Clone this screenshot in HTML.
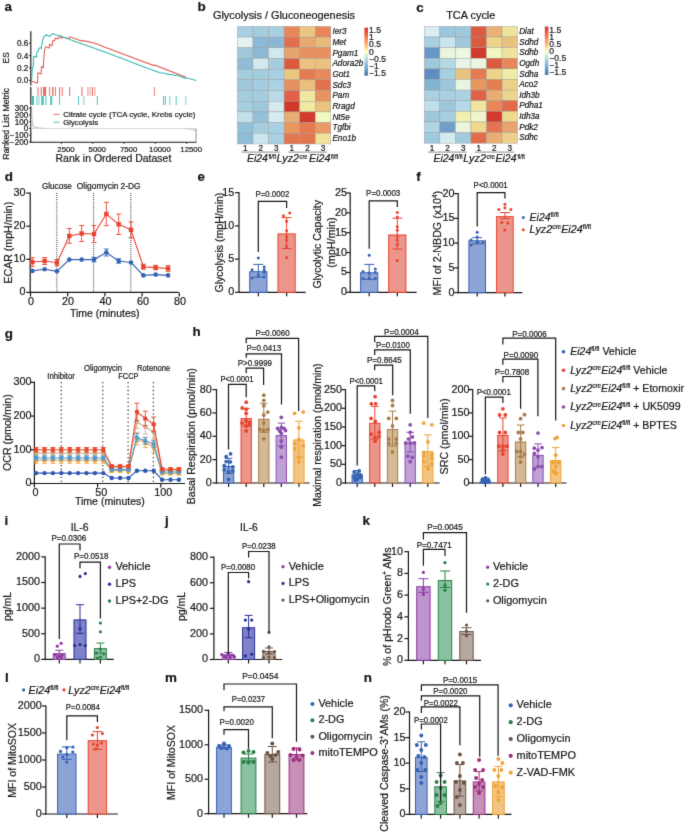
<!DOCTYPE html>
<html><head><meta charset="utf-8"><title>Figure</title>
<style>html,body{margin:0;padding:0;background:#fff;width:685px;height:834px;overflow:hidden}
svg{display:block;font-family:"Liberation Sans",sans-serif;will-change:transform}
text{stroke:#161616;stroke-width:0.2px}</style></head>
<body>
<svg width="685" height="834" viewBox="0 0 685 834" font-family="Liberation Sans, sans-serif" fill="#161616"><defs><linearGradient id="rdylbu" x1="0" y1="0" x2="0" y2="1">
<stop offset="0" stop-color="#d73027"/><stop offset="0.167" stop-color="#f46d43"/><stop offset="0.333" stop-color="#fdae61"/>
<stop offset="0.5" stop-color="#ffffbf"/><stop offset="0.667" stop-color="#abd9e9"/><stop offset="0.833" stop-color="#74add1"/><stop offset="1" stop-color="#4575b4"/>
</linearGradient>
<filter id="soft" x="0" y="0" width="685" height="834" filterUnits="userSpaceOnUse" color-interpolation-filters="sRGB"><feConvolveMatrix order="3" kernelMatrix="0.015 0.075 0.015 0.075 0.64 0.075 0.015 0.075 0.015" edgeMode="duplicate"/></filter></defs>
<g filter="url(#soft)"><rect width="685" height="834" fill="#fff"/>
<text x="4.5" y="10.9" font-size="13.4" font-weight="bold">a</text>
<text x="197.5" y="11.4" font-size="13.4" font-weight="bold">b</text>
<text x="416.3" y="11.6" font-size="13.4" font-weight="bold">c</text>
<text x="4.8" y="181.1" font-size="13.4" font-weight="bold">d</text>
<text x="197.5" y="181.1" font-size="13.4" font-weight="bold">e</text>
<text x="416.2" y="181.1" font-size="13.4" font-weight="bold">f</text>
<text x="4.8" y="337.5" font-size="13.4" font-weight="bold">g</text>
<text x="192.6" y="336.4" font-size="13.4" font-weight="bold">h</text>
<text x="4.6" y="525" font-size="13.4" font-weight="bold">i</text>
<text x="165" y="525" font-size="13.4" font-weight="bold">j</text>
<text x="362.5" y="525.4" font-size="13.4" font-weight="bold">k</text>
<text x="5" y="681.9" font-size="13.4" font-weight="bold">l</text>
<text x="165" y="682.3" font-size="13.4" font-weight="bold">m</text>
<text x="363.8" y="681.5" font-size="13.4" font-weight="bold">n</text>
<line x1="30.8" y1="31.3" x2="30.8" y2="85.6" stroke="#161616" stroke-width="1.15"/>
<line x1="30.8" y1="87" x2="30.8" y2="104.9" stroke="#161616" stroke-width="1.15"/>
<line x1="30.8" y1="106.3" x2="30.8" y2="142.3" stroke="#161616" stroke-width="1.15"/>
<line x1="28.8" y1="80.4" x2="30.8" y2="80.4" stroke="#161616" stroke-width="0.8"/>
<text x="28.3" y="83.3" font-size="8.2" text-anchor="end">0.0</text>
<line x1="28.8" y1="68.03" x2="30.8" y2="68.03" stroke="#161616" stroke-width="0.8"/>
<text x="28.3" y="70.93" font-size="8.2" text-anchor="end">0.2</text>
<line x1="28.8" y1="55.66" x2="30.8" y2="55.66" stroke="#161616" stroke-width="0.8"/>
<text x="28.3" y="58.56" font-size="8.2" text-anchor="end">0.4</text>
<line x1="28.8" y1="43.29" x2="30.8" y2="43.29" stroke="#161616" stroke-width="0.8"/>
<text x="28.3" y="46.19" font-size="8.2" text-anchor="end">0.6</text>
<text transform="translate(8.6 57.8) rotate(-90)" font-size="8.4" text-anchor="middle">ES</text>
<polyline points="31.6,81.3 37.5,83.1 37.9,72.9 39.5,73.3 41.1,74 41.5,66.7 43.3,67.4 43.7,60.1 44.4,51.4 45.5,46.8 47.3,47.3 49.2,48.1 49.5,44.4 51.4,45.2 52.1,45.5 52.8,40.8 53.5,40.4 54.6,40.4 55.4,38.2 56.8,38.2 57.9,38.9 58.7,37.1 60.1,36.8 61.6,38.2 62.3,37.1 68.9,38.6 70,36.8 78,39.7 81.4,41.2 82,40.4 95,43.3 105,47.2 153.8,65.6 154.3,64.9 186,77.2" fill="none" stroke="#e05a50" stroke-width="1.05"/>
<polyline points="31.6,81.3 32.4,67.4 33.3,66.3 33.5,56.5 35.7,56.5 36.6,57.2 36.8,52.1 38.2,51.4 38.9,48.1 40.4,47.7 41.3,48.4 41.5,45.2 42.2,44.1 42.6,39.7 43.3,38.9 43.7,36.8 45.5,35.3 46.6,34.9 49.9,36.4 51.4,34.6 52.5,33.8 53.5,34.1 58.7,36 60.1,35.3 61.6,36.4 78,42.6 105,52.1 154,70.8 161.8,73.2 163.5,72.8 165,73.6 169.8,74.6 170.5,74.2 175.8,75.6 176.5,75.1 185.5,78.3 186,77.8 196.3,80.6" fill="none" stroke="#35b8b0" stroke-width="1.05"/>
<rect x="37.2" y="87" width="1.7" height="8.9" fill="#e05a50" fill-opacity="0.55"/>
<rect x="40.7" y="87" width="1.2" height="8.9" fill="#e05a50" fill-opacity="0.8"/>
<rect x="43.1" y="87" width="3" height="8.9" fill="#e05a50" fill-opacity="0.9"/>
<rect x="49.1" y="87" width="1" height="8.9" fill="#e05a50" fill-opacity="0.8"/>
<rect x="52.1" y="87" width="1.5" height="8.9" fill="#e05a50" fill-opacity="0.85"/>
<rect x="55" y="87" width="1" height="8.9" fill="#e05a50" fill-opacity="0.8"/>
<rect x="59" y="87" width="1" height="8.9" fill="#e05a50" fill-opacity="0.8"/>
<rect x="60.6" y="87" width="0.8" height="8.9" fill="#e05a50" fill-opacity="0.3"/>
<rect x="61.9" y="87" width="0.9" height="8.9" fill="#e05a50" fill-opacity="0.8"/>
<rect x="69.1" y="87" width="1.1" height="8.9" fill="#e05a50" fill-opacity="0.85"/>
<rect x="81.3" y="87" width="1.3" height="8.9" fill="#e05a50" fill-opacity="0.75"/>
<rect x="87.1" y="87" width="0.9" height="8.9" fill="#e05a50" fill-opacity="0.45"/>
<rect x="88.3" y="87" width="0.9" height="8.9" fill="#e05a50" fill-opacity="0.4"/>
<rect x="89.5" y="87" width="0.9" height="8.9" fill="#e05a50" fill-opacity="0.45"/>
<rect x="90.6" y="87" width="0.8" height="8.9" fill="#e05a50" fill-opacity="0.3"/>
<rect x="92" y="87" width="1" height="8.9" fill="#e05a50" fill-opacity="0.85"/>
<rect x="94.3" y="87" width="1" height="8.9" fill="#e05a50" fill-opacity="0.65"/>
<rect x="153.9" y="87" width="0.9" height="8.9" fill="#e05a50" fill-opacity="0.85"/>
<rect x="32" y="96" width="2" height="9" fill="#35b8b0" fill-opacity="0.95"/>
<rect x="36.2" y="96" width="1.2" height="9" fill="#35b8b0" fill-opacity="0.5"/>
<rect x="37.6" y="96" width="1" height="9" fill="#35b8b0" fill-opacity="0.45"/>
<rect x="38.8" y="96" width="0.9" height="9" fill="#35b8b0" fill-opacity="0.4"/>
<rect x="41.2" y="96" width="2.7" height="9" fill="#35b8b0" fill-opacity="0.85"/>
<rect x="45.1" y="96" width="1.8" height="9" fill="#35b8b0" fill-opacity="0.5"/>
<rect x="50.1" y="96" width="2.2" height="9" fill="#35b8b0" fill-opacity="0.8"/>
<rect x="59" y="96" width="1" height="9" fill="#35b8b0" fill-opacity="0.8"/>
<rect x="78" y="96" width="1" height="9" fill="#35b8b0" fill-opacity="0.85"/>
<rect x="83.3" y="96" width="1.1" height="9" fill="#35b8b0" fill-opacity="0.6"/>
<rect x="96.8" y="96" width="1" height="9" fill="#35b8b0" fill-opacity="0.85"/>
<rect x="163" y="96" width="1" height="9" fill="#35b8b0" fill-opacity="0.85"/>
<rect x="164.9" y="96" width="1" height="9" fill="#35b8b0" fill-opacity="0.85"/>
<rect x="169.3" y="96" width="1" height="9" fill="#35b8b0" fill-opacity="0.7"/>
<rect x="175.7" y="96" width="1" height="9" fill="#35b8b0" fill-opacity="0.8"/>
<rect x="185.3" y="96" width="1" height="9" fill="#35b8b0" fill-opacity="0.65"/>
<line x1="28.8" y1="142" x2="30.8" y2="142" stroke="#161616" stroke-width="0.8"/>
<text x="28.3" y="144.9" font-size="8.2" text-anchor="end">−200</text>
<line x1="28.8" y1="135.25" x2="30.8" y2="135.25" stroke="#161616" stroke-width="0.8"/>
<text x="28.3" y="138.15" font-size="8.2" text-anchor="end">−100</text>
<line x1="28.8" y1="128.5" x2="30.8" y2="128.5" stroke="#161616" stroke-width="0.8"/>
<text x="28.3" y="131.4" font-size="8.2" text-anchor="end">0</text>
<line x1="28.8" y1="121.75" x2="30.8" y2="121.75" stroke="#161616" stroke-width="0.8"/>
<text x="28.3" y="124.65" font-size="8.2" text-anchor="end">100</text>
<line x1="28.8" y1="115" x2="30.8" y2="115" stroke="#161616" stroke-width="0.8"/>
<text x="28.3" y="117.9" font-size="8.2" text-anchor="end">200</text>
<line x1="28.8" y1="108.25" x2="30.8" y2="108.25" stroke="#161616" stroke-width="0.8"/>
<text x="28.3" y="111.15" font-size="8.2" text-anchor="end">300</text>
<path d="M31.4,128.5 L31.5,107.5 C31.8,118 32.2,124 33.5,126.3 C35,127.6 38,128.1 45,128.3 L185,128.7 C191,129 194.5,129.8 195.5,131.5 L196.1,141.5 L196.1,128.5 Z" fill="#ececec" stroke="none"/>
<path d="M185,128.7 C191,129 194.5,129.8 195.6,131.5" fill="none" stroke="#a0a0a0" stroke-width="0.6"/>
<path d="M31.6,107.5 C31.9,118 32.3,124 33.6,126.3 C35,127.6 38,128.1 45,128.3" fill="none" stroke="#9a9a9a" stroke-width="0.6"/>
<line x1="31" y1="128.5" x2="196.1" y2="128.5" stroke="#cdcdcd" stroke-width="0.7"/>
<line x1="196.1" y1="128.5" x2="196.1" y2="141.6" stroke="#8a8a8a" stroke-width="0.9"/>
<line x1="30.3" y1="142.2" x2="196.5" y2="142.2" stroke="#161616" stroke-width="1.1"/>
<line x1="61.4" y1="142.2" x2="61.4" y2="144" stroke="#161616" stroke-width="0.8"/>
<line x1="92.7" y1="142.2" x2="92.7" y2="144" stroke="#161616" stroke-width="0.8"/>
<line x1="124" y1="142.2" x2="124" y2="144" stroke="#161616" stroke-width="0.8"/>
<line x1="155.3" y1="142.2" x2="155.3" y2="144" stroke="#161616" stroke-width="0.8"/>
<line x1="186.6" y1="142.2" x2="186.6" y2="144" stroke="#161616" stroke-width="0.8"/>
<text x="66" y="151.6" font-size="7.8" text-anchor="middle">2500</text>
<text x="97.3" y="151.6" font-size="7.8" text-anchor="middle">5000</text>
<text x="128.6" y="151.6" font-size="7.8" text-anchor="middle">7500</text>
<text x="159.9" y="151.6" font-size="7.8" text-anchor="middle">10000</text>
<text x="191.2" y="151.6" font-size="7.8" text-anchor="middle">12500</text>
<text x="55.5" y="162.2" font-size="10.5" textLength="115.8" lengthAdjust="spacingAndGlyphs">Rank in Ordered Dataset</text>
<text transform="translate(8.7 123.9) rotate(-90)" font-size="8.9" text-anchor="middle" textLength="71.9" lengthAdjust="spacingAndGlyphs">Ranked List Metric</text>
<line x1="53.5" y1="114.4" x2="59.6" y2="114.4" stroke="#e05a50" stroke-width="0.9"/>
<line x1="53.5" y1="122.2" x2="59.6" y2="122.2" stroke="#35b8b0" stroke-width="0.9"/>
<text x="63.2" y="117.2" font-size="7.9" textLength="132.3" lengthAdjust="spacingAndGlyphs">Citrate cycle (TCA cycle, Krebs cycle)</text>
<text x="63.2" y="125" font-size="7.9" textLength="35" lengthAdjust="spacingAndGlyphs">Glycolysis</text>
<rect x="237.4" y="26.4" width="15.57" height="10.69" fill="#a8cfe2" stroke="#9a9a9a" stroke-width="0.4"/>
<rect x="252.97" y="26.4" width="15.57" height="10.69" fill="#a4cde0" stroke="#9a9a9a" stroke-width="0.4"/>
<rect x="268.54" y="26.4" width="15.57" height="10.69" fill="#a8cfe2" stroke="#9a9a9a" stroke-width="0.4"/>
<rect x="284.11" y="26.4" width="15.57" height="10.69" fill="#e8865a" stroke="#9a9a9a" stroke-width="0.4"/>
<rect x="299.68" y="26.4" width="15.57" height="10.69" fill="#ebc67f" stroke="#9a9a9a" stroke-width="0.4"/>
<rect x="315.25" y="26.4" width="15.57" height="10.69" fill="#e8865a" stroke="#9a9a9a" stroke-width="0.4"/>
<rect x="237.4" y="37.09" width="15.57" height="10.69" fill="#e3f3ee" stroke="#9a9a9a" stroke-width="0.4"/>
<rect x="252.97" y="37.09" width="15.57" height="10.69" fill="#8cb9d6" stroke="#9a9a9a" stroke-width="0.4"/>
<rect x="268.54" y="37.09" width="15.57" height="10.69" fill="#8ab8d4" stroke="#9a9a9a" stroke-width="0.4"/>
<rect x="284.11" y="37.09" width="15.57" height="10.69" fill="#e26e4d" stroke="#9a9a9a" stroke-width="0.4"/>
<rect x="299.68" y="37.09" width="15.57" height="10.69" fill="#e9a771" stroke="#9a9a9a" stroke-width="0.4"/>
<rect x="315.25" y="37.09" width="15.57" height="10.69" fill="#e8ba7c" stroke="#9a9a9a" stroke-width="0.4"/>
<rect x="237.4" y="47.78" width="15.57" height="10.69" fill="#9fc8dd" stroke="#9a9a9a" stroke-width="0.4"/>
<rect x="252.97" y="47.78" width="15.57" height="10.69" fill="#8cb9d6" stroke="#9a9a9a" stroke-width="0.4"/>
<rect x="268.54" y="47.78" width="15.57" height="10.69" fill="#d0e8ee" stroke="#9a9a9a" stroke-width="0.4"/>
<rect x="284.11" y="47.78" width="15.57" height="10.69" fill="#e6a46e" stroke="#9a9a9a" stroke-width="0.4"/>
<rect x="299.68" y="47.78" width="15.57" height="10.69" fill="#e88f5f" stroke="#9a9a9a" stroke-width="0.4"/>
<rect x="315.25" y="47.78" width="15.57" height="10.69" fill="#e88f5f" stroke="#9a9a9a" stroke-width="0.4"/>
<rect x="237.4" y="58.47" width="15.57" height="10.69" fill="#90bcd7" stroke="#9a9a9a" stroke-width="0.4"/>
<rect x="252.97" y="58.47" width="15.57" height="10.69" fill="#d2eaef" stroke="#9a9a9a" stroke-width="0.4"/>
<rect x="268.54" y="58.47" width="15.57" height="10.69" fill="#a4cde0" stroke="#9a9a9a" stroke-width="0.4"/>
<rect x="284.11" y="58.47" width="15.57" height="10.69" fill="#dc5a3f" stroke="#9a9a9a" stroke-width="0.4"/>
<rect x="299.68" y="58.47" width="15.57" height="10.69" fill="#eac27e" stroke="#9a9a9a" stroke-width="0.4"/>
<rect x="315.25" y="58.47" width="15.57" height="10.69" fill="#eac27e" stroke="#9a9a9a" stroke-width="0.4"/>
<rect x="237.4" y="69.16" width="15.57" height="10.69" fill="#a4cde0" stroke="#9a9a9a" stroke-width="0.4"/>
<rect x="252.97" y="69.16" width="15.57" height="10.69" fill="#a4cde0" stroke="#9a9a9a" stroke-width="0.4"/>
<rect x="268.54" y="69.16" width="15.57" height="10.69" fill="#a8cfe2" stroke="#9a9a9a" stroke-width="0.4"/>
<rect x="284.11" y="69.16" width="15.57" height="10.69" fill="#ebc67f" stroke="#9a9a9a" stroke-width="0.4"/>
<rect x="299.68" y="69.16" width="15.57" height="10.69" fill="#e57b51" stroke="#9a9a9a" stroke-width="0.4"/>
<rect x="315.25" y="69.16" width="15.57" height="10.69" fill="#e8895e" stroke="#9a9a9a" stroke-width="0.4"/>
<rect x="237.4" y="79.85" width="15.57" height="10.69" fill="#9fc8dd" stroke="#9a9a9a" stroke-width="0.4"/>
<rect x="252.97" y="79.85" width="15.57" height="10.69" fill="#a4cde0" stroke="#9a9a9a" stroke-width="0.4"/>
<rect x="268.54" y="79.85" width="15.57" height="10.69" fill="#abd1e3" stroke="#9a9a9a" stroke-width="0.4"/>
<rect x="284.11" y="79.85" width="15.57" height="10.69" fill="#e6905f" stroke="#9a9a9a" stroke-width="0.4"/>
<rect x="299.68" y="79.85" width="15.57" height="10.69" fill="#ebbf7d" stroke="#9a9a9a" stroke-width="0.4"/>
<rect x="315.25" y="79.85" width="15.57" height="10.69" fill="#e2714d" stroke="#9a9a9a" stroke-width="0.4"/>
<rect x="237.4" y="90.54" width="15.57" height="10.69" fill="#a4cde0" stroke="#9a9a9a" stroke-width="0.4"/>
<rect x="252.97" y="90.54" width="15.57" height="10.69" fill="#a4cde0" stroke="#9a9a9a" stroke-width="0.4"/>
<rect x="268.54" y="90.54" width="15.57" height="10.69" fill="#b8dbe7" stroke="#9a9a9a" stroke-width="0.4"/>
<rect x="284.11" y="90.54" width="15.57" height="10.69" fill="#e0624a" stroke="#9a9a9a" stroke-width="0.4"/>
<rect x="299.68" y="90.54" width="15.57" height="10.69" fill="#f1e6a2" stroke="#9a9a9a" stroke-width="0.4"/>
<rect x="315.25" y="90.54" width="15.57" height="10.69" fill="#e8925f" stroke="#9a9a9a" stroke-width="0.4"/>
<rect x="237.4" y="101.23" width="15.57" height="10.69" fill="#a6cee1" stroke="#9a9a9a" stroke-width="0.4"/>
<rect x="252.97" y="101.23" width="15.57" height="10.69" fill="#9fc8dd" stroke="#9a9a9a" stroke-width="0.4"/>
<rect x="268.54" y="101.23" width="15.57" height="10.69" fill="#d3ebf0" stroke="#9a9a9a" stroke-width="0.4"/>
<rect x="284.11" y="101.23" width="15.57" height="10.69" fill="#d0362a" stroke="#9a9a9a" stroke-width="0.4"/>
<rect x="299.68" y="101.23" width="15.57" height="10.69" fill="#f1e8a2" stroke="#9a9a9a" stroke-width="0.4"/>
<rect x="315.25" y="101.23" width="15.57" height="10.69" fill="#eac47f" stroke="#9a9a9a" stroke-width="0.4"/>
<rect x="237.4" y="111.92" width="15.57" height="10.69" fill="#c3e1ea" stroke="#9a9a9a" stroke-width="0.4"/>
<rect x="252.97" y="111.92" width="15.57" height="10.69" fill="#93c1d9" stroke="#9a9a9a" stroke-width="0.4"/>
<rect x="268.54" y="111.92" width="15.57" height="10.69" fill="#d5edf1" stroke="#9a9a9a" stroke-width="0.4"/>
<rect x="284.11" y="111.92" width="15.57" height="10.69" fill="#e8ad74" stroke="#9a9a9a" stroke-width="0.4"/>
<rect x="299.68" y="111.92" width="15.57" height="10.69" fill="#d33b2d" stroke="#9a9a9a" stroke-width="0.4"/>
<rect x="315.25" y="111.92" width="15.57" height="10.69" fill="#f2f8c2" stroke="#9a9a9a" stroke-width="0.4"/>
<rect x="237.4" y="122.61" width="15.57" height="10.69" fill="#92c0d8" stroke="#9a9a9a" stroke-width="0.4"/>
<rect x="252.97" y="122.61" width="15.57" height="10.69" fill="#a4cde0" stroke="#9a9a9a" stroke-width="0.4"/>
<rect x="268.54" y="122.61" width="15.57" height="10.69" fill="#a8cfe2" stroke="#9a9a9a" stroke-width="0.4"/>
<rect x="284.11" y="122.61" width="15.57" height="10.69" fill="#e8975f" stroke="#9a9a9a" stroke-width="0.4"/>
<rect x="299.68" y="122.61" width="15.57" height="10.69" fill="#e57b51" stroke="#9a9a9a" stroke-width="0.4"/>
<rect x="315.25" y="122.61" width="15.57" height="10.69" fill="#e89b66" stroke="#9a9a9a" stroke-width="0.4"/>
<rect x="237.4" y="133.3" width="15.57" height="10.69" fill="#8fbcd6" stroke="#9a9a9a" stroke-width="0.4"/>
<rect x="252.97" y="133.3" width="15.57" height="10.69" fill="#cbe6ee" stroke="#9a9a9a" stroke-width="0.4"/>
<rect x="268.54" y="133.3" width="15.57" height="10.69" fill="#a8cfe2" stroke="#9a9a9a" stroke-width="0.4"/>
<rect x="284.11" y="133.3" width="15.57" height="10.69" fill="#e27651" stroke="#9a9a9a" stroke-width="0.4"/>
<rect x="299.68" y="133.3" width="15.57" height="10.69" fill="#e27651" stroke="#9a9a9a" stroke-width="0.4"/>
<rect x="315.25" y="133.3" width="15.57" height="10.69" fill="#f0e29b" stroke="#9a9a9a" stroke-width="0.4"/>
<text x="213" y="18.8" font-size="10.2" textLength="142" lengthAdjust="spacingAndGlyphs">Glycolysis / Gluconeogenesis</text>
<text x="332.42" y="34.14" font-size="8.2" font-style="italic">Ier3</text>
<text x="332.42" y="44.83" font-size="8.2" font-style="italic">Met</text>
<text x="332.42" y="55.52" font-size="8.2" font-style="italic">Pgam1</text>
<text x="332.42" y="66.22" font-size="8.2" font-style="italic">Adora2b</text>
<text x="332.42" y="76.91" font-size="8.2" font-style="italic">Got1</text>
<text x="332.42" y="87.59" font-size="8.2" font-style="italic">Sdc3</text>
<text x="332.42" y="98.28" font-size="8.2" font-style="italic">Pam</text>
<text x="332.42" y="108.97" font-size="8.2" font-style="italic">Rragd</text>
<text x="332.42" y="119.66" font-size="8.2" font-style="italic">Nt5e</text>
<text x="332.42" y="130.35" font-size="8.2" font-style="italic">Tgfbi</text>
<text x="332.42" y="141.04" font-size="8.2" font-style="italic">Eno1b</text>
<text x="245.19" y="151.1" font-size="8.2" text-anchor="middle">1</text>
<text x="260.75" y="151.1" font-size="8.2" text-anchor="middle">2</text>
<text x="276.32" y="151.1" font-size="8.2" text-anchor="middle">3</text>
<text x="291.89" y="151.1" font-size="8.2" text-anchor="middle">1</text>
<text x="307.47" y="151.1" font-size="8.2" text-anchor="middle">2</text>
<text x="323.04" y="151.1" font-size="8.2" text-anchor="middle">3</text>
<line x1="241.5" y1="152.1" x2="280.2" y2="152.1" stroke="#a3a3a3" stroke-width="1.4"/>
<line x1="288.3" y1="152.1" x2="327.1" y2="152.1" stroke="#a3a3a3" stroke-width="1.4"/>
<rect x="364.4" y="27.7" width="3.6" height="48" fill="url(#rdylbu)"/>
<text x="369" y="33.2" font-size="8.6">1.5</text>
<text x="369" y="40.32" font-size="8.6">1</text>
<text x="369" y="47.44" font-size="8.6">0.5</text>
<text x="369" y="54.56" font-size="8.6">0</text>
<text x="369" y="61.68" font-size="8.6">−0.5</text>
<text x="369" y="68.8" font-size="8.6">−1</text>
<text x="369" y="75.92" font-size="8.6">−1.5</text>
<text x="246.9" y="162.2" font-size="10.6" font-style="italic" textLength="21" lengthAdjust="spacingAndGlyphs">Ei24</text>
<text x="268.4" y="159.1" font-size="6.6" textLength="7.6" lengthAdjust="spacingAndGlyphs">fl/fl</text>
<text x="276.5" y="162.2" font-size="10.6" font-style="italic" textLength="22.5" lengthAdjust="spacingAndGlyphs">Lyz2</text>
<text x="299.5" y="159.1" font-size="6.6" textLength="8" lengthAdjust="spacingAndGlyphs">cre</text>
<text x="309" y="162.2" font-size="10.6" font-style="italic" textLength="21.5" lengthAdjust="spacingAndGlyphs">Ei24</text>
<text x="331" y="159.1" font-size="6.6" textLength="7" lengthAdjust="spacingAndGlyphs">fl/fl</text>
<rect x="424.3" y="26.4" width="15.55" height="10.62" fill="#d9eef3" stroke="#9a9a9a" stroke-width="0.4"/>
<rect x="439.85" y="26.4" width="15.55" height="10.62" fill="#9cc6dc" stroke="#9a9a9a" stroke-width="0.4"/>
<rect x="455.4" y="26.4" width="15.55" height="10.62" fill="#a0c8dc" stroke="#9a9a9a" stroke-width="0.4"/>
<rect x="470.95" y="26.4" width="15.55" height="10.62" fill="#dc5a3f" stroke="#9a9a9a" stroke-width="0.4"/>
<rect x="486.5" y="26.4" width="15.55" height="10.62" fill="#eab077" stroke="#9a9a9a" stroke-width="0.4"/>
<rect x="502.05" y="26.4" width="15.55" height="10.62" fill="#ede39b" stroke="#9a9a9a" stroke-width="0.4"/>
<rect x="424.3" y="37.02" width="15.55" height="10.62" fill="#a8cfe0" stroke="#9a9a9a" stroke-width="0.4"/>
<rect x="439.85" y="37.02" width="15.55" height="10.62" fill="#c9e5ed" stroke="#9a9a9a" stroke-width="0.4"/>
<rect x="455.4" y="37.02" width="15.55" height="10.62" fill="#a0c8dc" stroke="#9a9a9a" stroke-width="0.4"/>
<rect x="470.95" y="37.02" width="15.55" height="10.62" fill="#dc5a3f" stroke="#9a9a9a" stroke-width="0.4"/>
<rect x="486.5" y="37.02" width="15.55" height="10.62" fill="#edd48a" stroke="#9a9a9a" stroke-width="0.4"/>
<rect x="502.05" y="37.02" width="15.55" height="10.62" fill="#e9c27f" stroke="#9a9a9a" stroke-width="0.4"/>
<rect x="424.3" y="47.64" width="15.55" height="10.62" fill="#6797c5" stroke="#9a9a9a" stroke-width="0.4"/>
<rect x="439.85" y="47.64" width="15.55" height="10.62" fill="#e9f5dc" stroke="#9a9a9a" stroke-width="0.4"/>
<rect x="455.4" y="47.64" width="15.55" height="10.62" fill="#eef7df" stroke="#9a9a9a" stroke-width="0.4"/>
<rect x="470.95" y="47.64" width="15.55" height="10.62" fill="#d03a2c" stroke="#9a9a9a" stroke-width="0.4"/>
<rect x="486.5" y="47.64" width="15.55" height="10.62" fill="#f1f8c1" stroke="#9a9a9a" stroke-width="0.4"/>
<rect x="502.05" y="47.64" width="15.55" height="10.62" fill="#efe49e" stroke="#9a9a9a" stroke-width="0.4"/>
<rect x="424.3" y="58.26" width="15.55" height="10.62" fill="#a0c8dc" stroke="#9a9a9a" stroke-width="0.4"/>
<rect x="439.85" y="58.26" width="15.55" height="10.62" fill="#b4d8e4" stroke="#9a9a9a" stroke-width="0.4"/>
<rect x="455.4" y="58.26" width="15.55" height="10.62" fill="#e9f5ea" stroke="#9a9a9a" stroke-width="0.4"/>
<rect x="470.95" y="58.26" width="15.55" height="10.62" fill="#ebf5e2" stroke="#9a9a9a" stroke-width="0.4"/>
<rect x="486.5" y="58.26" width="15.55" height="10.62" fill="#dc5a3f" stroke="#9a9a9a" stroke-width="0.4"/>
<rect x="502.05" y="58.26" width="15.55" height="10.62" fill="#e8875a" stroke="#9a9a9a" stroke-width="0.4"/>
<rect x="424.3" y="68.88" width="15.55" height="10.62" fill="#5f8dc1" stroke="#9a9a9a" stroke-width="0.4"/>
<rect x="439.85" y="68.88" width="15.55" height="10.62" fill="#a6cfe0" stroke="#9a9a9a" stroke-width="0.4"/>
<rect x="455.4" y="68.88" width="15.55" height="10.62" fill="#eac27f" stroke="#9a9a9a" stroke-width="0.4"/>
<rect x="470.95" y="68.88" width="15.55" height="10.62" fill="#e57a50" stroke="#9a9a9a" stroke-width="0.4"/>
<rect x="486.5" y="68.88" width="15.55" height="10.62" fill="#edd48a" stroke="#9a9a9a" stroke-width="0.4"/>
<rect x="502.05" y="68.88" width="15.55" height="10.62" fill="#eeeda8" stroke="#9a9a9a" stroke-width="0.4"/>
<rect x="424.3" y="79.5" width="15.55" height="10.62" fill="#85b3d2" stroke="#9a9a9a" stroke-width="0.4"/>
<rect x="439.85" y="79.5" width="15.55" height="10.62" fill="#9dc8dc" stroke="#9a9a9a" stroke-width="0.4"/>
<rect x="455.4" y="79.5" width="15.55" height="10.62" fill="#e8f5e2" stroke="#9a9a9a" stroke-width="0.4"/>
<rect x="470.95" y="79.5" width="15.55" height="10.62" fill="#e8985f" stroke="#9a9a9a" stroke-width="0.4"/>
<rect x="486.5" y="79.5" width="15.55" height="10.62" fill="#e67e52" stroke="#9a9a9a" stroke-width="0.4"/>
<rect x="502.05" y="79.5" width="15.55" height="10.62" fill="#ecd089" stroke="#9a9a9a" stroke-width="0.4"/>
<rect x="424.3" y="90.12" width="15.55" height="10.62" fill="#a9d0e1" stroke="#9a9a9a" stroke-width="0.4"/>
<rect x="439.85" y="90.12" width="15.55" height="10.62" fill="#a9d0e1" stroke="#9a9a9a" stroke-width="0.4"/>
<rect x="455.4" y="90.12" width="15.55" height="10.62" fill="#acd2e2" stroke="#9a9a9a" stroke-width="0.4"/>
<rect x="470.95" y="90.12" width="15.55" height="10.62" fill="#e0614a" stroke="#9a9a9a" stroke-width="0.4"/>
<rect x="486.5" y="90.12" width="15.55" height="10.62" fill="#e9ad72" stroke="#9a9a9a" stroke-width="0.4"/>
<rect x="502.05" y="90.12" width="15.55" height="10.62" fill="#ecd68c" stroke="#9a9a9a" stroke-width="0.4"/>
<rect x="424.3" y="100.74" width="15.55" height="10.62" fill="#bfe0ea" stroke="#9a9a9a" stroke-width="0.4"/>
<rect x="439.85" y="100.74" width="15.55" height="10.62" fill="#9dc8dc" stroke="#9a9a9a" stroke-width="0.4"/>
<rect x="455.4" y="100.74" width="15.55" height="10.62" fill="#b5d9e6" stroke="#9a9a9a" stroke-width="0.4"/>
<rect x="470.95" y="100.74" width="15.55" height="10.62" fill="#efe59c" stroke="#9a9a9a" stroke-width="0.4"/>
<rect x="486.5" y="100.74" width="15.55" height="10.62" fill="#e8875a" stroke="#9a9a9a" stroke-width="0.4"/>
<rect x="502.05" y="100.74" width="15.55" height="10.62" fill="#e06a4a" stroke="#9a9a9a" stroke-width="0.4"/>
<rect x="424.3" y="111.36" width="15.55" height="10.62" fill="#9dc8dc" stroke="#9a9a9a" stroke-width="0.4"/>
<rect x="439.85" y="111.36" width="15.55" height="10.62" fill="#a7cfe0" stroke="#9a9a9a" stroke-width="0.4"/>
<rect x="455.4" y="111.36" width="15.55" height="10.62" fill="#f1f1b1" stroke="#9a9a9a" stroke-width="0.4"/>
<rect x="470.95" y="111.36" width="15.55" height="10.62" fill="#f1f6cc" stroke="#9a9a9a" stroke-width="0.4"/>
<rect x="486.5" y="111.36" width="15.55" height="10.62" fill="#d33a2c" stroke="#9a9a9a" stroke-width="0.4"/>
<rect x="502.05" y="111.36" width="15.55" height="10.62" fill="#eedb8e" stroke="#9a9a9a" stroke-width="0.4"/>
<rect x="424.3" y="121.98" width="15.55" height="10.62" fill="#b0d5e4" stroke="#9a9a9a" stroke-width="0.4"/>
<rect x="439.85" y="121.98" width="15.55" height="10.62" fill="#6f9fc8" stroke="#9a9a9a" stroke-width="0.4"/>
<rect x="455.4" y="121.98" width="15.55" height="10.62" fill="#ebf6dc" stroke="#9a9a9a" stroke-width="0.4"/>
<rect x="470.95" y="121.98" width="15.55" height="10.62" fill="#eed88e" stroke="#9a9a9a" stroke-width="0.4"/>
<rect x="486.5" y="121.98" width="15.55" height="10.62" fill="#e37450" stroke="#9a9a9a" stroke-width="0.4"/>
<rect x="502.05" y="121.98" width="15.55" height="10.62" fill="#e9a36c" stroke="#9a9a9a" stroke-width="0.4"/>
<rect x="424.3" y="132.6" width="15.55" height="10.62" fill="#9fc9dc" stroke="#9a9a9a" stroke-width="0.4"/>
<rect x="439.85" y="132.6" width="15.55" height="10.62" fill="#d4ebf0" stroke="#9a9a9a" stroke-width="0.4"/>
<rect x="455.4" y="132.6" width="15.55" height="10.62" fill="#a2cadd" stroke="#9a9a9a" stroke-width="0.4"/>
<rect x="470.95" y="132.6" width="15.55" height="10.62" fill="#e26d4c" stroke="#9a9a9a" stroke-width="0.4"/>
<rect x="486.5" y="132.6" width="15.55" height="10.62" fill="#e9ae73" stroke="#9a9a9a" stroke-width="0.4"/>
<rect x="502.05" y="132.6" width="15.55" height="10.62" fill="#ecd089" stroke="#9a9a9a" stroke-width="0.4"/>
<text x="446.2" y="19.3" font-size="10.2" textLength="49.2" lengthAdjust="spacingAndGlyphs">TCA cycle</text>
<text x="519.2" y="34.11" font-size="8.2" font-style="italic">Dlat</text>
<text x="519.2" y="44.73" font-size="8.2" font-style="italic">Sdhd</text>
<text x="519.2" y="55.35" font-size="8.2" font-style="italic">Sdhb</text>
<text x="519.2" y="65.97" font-size="8.2" font-style="italic">Ogdh</text>
<text x="519.2" y="76.59" font-size="8.2" font-style="italic">Sdha</text>
<text x="519.2" y="87.21" font-size="8.2" font-style="italic">Aco2</text>
<text x="519.2" y="97.83" font-size="8.2" font-style="italic">Idh3b</text>
<text x="519.2" y="108.45" font-size="8.2" font-style="italic">Pdha1</text>
<text x="519.2" y="119.07" font-size="8.2" font-style="italic">Idh3a</text>
<text x="519.2" y="129.69" font-size="8.2" font-style="italic">Pdk2</text>
<text x="519.2" y="140.31" font-size="8.2" font-style="italic">Sdhc</text>
<text x="432.07" y="151.1" font-size="8.2" text-anchor="middle">1</text>
<text x="447.62" y="151.1" font-size="8.2" text-anchor="middle">2</text>
<text x="463.18" y="151.1" font-size="8.2" text-anchor="middle">3</text>
<text x="478.73" y="151.1" font-size="8.2" text-anchor="middle">1</text>
<text x="494.28" y="151.1" font-size="8.2" text-anchor="middle">2</text>
<text x="509.83" y="151.1" font-size="8.2" text-anchor="middle">3</text>
<line x1="428.1" y1="152.1" x2="466.7" y2="152.1" stroke="#a3a3a3" stroke-width="1.4"/>
<line x1="474.8" y1="152.1" x2="514" y2="152.1" stroke="#a3a3a3" stroke-width="1.4"/>
<rect x="544.8" y="26.6" width="3.6" height="48.3" fill="url(#rdylbu)"/>
<text x="549.3" y="32.9" font-size="8.6">1.5</text>
<text x="549.3" y="39.92" font-size="8.6">1</text>
<text x="549.3" y="46.94" font-size="8.6">0.5</text>
<text x="549.3" y="53.96" font-size="8.6">0</text>
<text x="549.3" y="60.98" font-size="8.6">−0.5</text>
<text x="549.3" y="68" font-size="8.6">−1</text>
<text x="549.3" y="75.02" font-size="8.6">−1.5</text>
<text x="433.4" y="162.2" font-size="10.6" font-style="italic" textLength="21" lengthAdjust="spacingAndGlyphs">Ei24</text>
<text x="455" y="159.1" font-size="6.6" textLength="7.6" lengthAdjust="spacingAndGlyphs">fl/fl</text>
<text x="463.2" y="162.2" font-size="10.6" font-style="italic" textLength="22.8" lengthAdjust="spacingAndGlyphs">Lyz2</text>
<text x="486.5" y="159.1" font-size="6.6" textLength="8.3" lengthAdjust="spacingAndGlyphs">cre</text>
<text x="495.5" y="162.2" font-size="10.6" font-style="italic" textLength="21" lengthAdjust="spacingAndGlyphs">Ei24</text>
<text x="517.5" y="159.1" font-size="6.6" textLength="7.2" lengthAdjust="spacingAndGlyphs">fl/fl</text>
<line x1="30.2" y1="192.4" x2="30.2" y2="293" stroke="#161616" stroke-width="1.2"/>
<line x1="26.2" y1="292.4" x2="30.2" y2="292.4" stroke="#161616" stroke-width="1.2"/>
<text x="25.4" y="295.33" font-size="10.8" text-anchor="end">0</text>
<line x1="26.2" y1="259.3" x2="30.2" y2="259.3" stroke="#161616" stroke-width="1.2"/>
<text x="25.4" y="262.23" font-size="10.8" text-anchor="end">10</text>
<line x1="26.2" y1="226.2" x2="30.2" y2="226.2" stroke="#161616" stroke-width="1.2"/>
<text x="25.4" y="229.13" font-size="10.8" text-anchor="end">20</text>
<line x1="26.2" y1="193.1" x2="30.2" y2="193.1" stroke="#161616" stroke-width="1.2"/>
<text x="25.4" y="196.03" font-size="10.8" text-anchor="end">30</text>
<line x1="29.6" y1="292.4" x2="178.6" y2="292.4" stroke="#161616" stroke-width="1.2"/>
<line x1="30.5" y1="292.4" x2="30.5" y2="296.4" stroke="#161616" stroke-width="1.2"/>
<line x1="67.7" y1="292.4" x2="67.7" y2="296.4" stroke="#161616" stroke-width="1.2"/>
<line x1="104.9" y1="292.4" x2="104.9" y2="296.4" stroke="#161616" stroke-width="1.2"/>
<line x1="142.1" y1="292.4" x2="142.1" y2="296.4" stroke="#161616" stroke-width="1.2"/>
<line x1="179.3" y1="292.4" x2="179.3" y2="296.4" stroke="#161616" stroke-width="1.2"/>
<text x="30.9" y="304.5" font-size="10.8" text-anchor="middle">0</text>
<text x="68.1" y="304.5" font-size="10.8" text-anchor="middle">20</text>
<text x="105.6" y="304.5" font-size="10.8" text-anchor="middle">40</text>
<text x="143" y="304.5" font-size="10.8" text-anchor="middle">60</text>
<text x="180.1" y="304.5" font-size="10.8" text-anchor="middle">80</text>
<text x="69.9" y="316.7" font-size="10.8" textLength="69.6" lengthAdjust="spacingAndGlyphs">Time (minutes)</text>
<text transform="translate(11.7 242.65) rotate(-90)" font-size="10.8" text-anchor="middle" textLength="81.7" lengthAdjust="spacingAndGlyphs">ECAR (mpH/min)</text>
<line x1="56.8" y1="193" x2="56.8" y2="292" stroke="#4a4a4a" stroke-width="1.1" stroke-dasharray="1 1.04"/>
<line x1="93.6" y1="193" x2="93.6" y2="292" stroke="#4a4a4a" stroke-width="1.1" stroke-dasharray="1 1.04"/>
<line x1="130.8" y1="193" x2="130.8" y2="292" stroke="#4a4a4a" stroke-width="1.1" stroke-dasharray="1 1.04"/>
<text x="41.9" y="188.6" font-size="8.6" textLength="30" lengthAdjust="spacingAndGlyphs">Glucose</text>
<text x="76.8" y="188.6" font-size="8.6" textLength="41.7" lengthAdjust="spacingAndGlyphs">Oligomycin</text>
<text x="120.6" y="188.6" font-size="8.6" textLength="20" lengthAdjust="spacingAndGlyphs">2-DG</text>
<polyline points="32.3,262 44.64,261 56.98,262.7 69.32,235.9 81.66,233.5 94,234 106.34,214 118.68,224.3 131.02,229.8 143.36,266.7 155.7,267.6 168.04,268.5" fill="none" stroke="#e8432f" stroke-width="1.1"/>
<line x1="32.3" y1="266.4" x2="32.3" y2="257.6" stroke="#e8432f" stroke-width="0.9"/>
<line x1="29.8" y1="257.6" x2="34.8" y2="257.6" stroke="#e8432f" stroke-width="0.9"/>
<line x1="29.8" y1="266.4" x2="34.8" y2="266.4" stroke="#e8432f" stroke-width="0.9"/>
<rect x="30.1" y="259.8" width="4.4" height="4.4" fill="#e8432f"/>
<line x1="44.64" y1="264.5" x2="44.64" y2="257.5" stroke="#e8432f" stroke-width="0.9"/>
<line x1="42.14" y1="257.5" x2="47.14" y2="257.5" stroke="#e8432f" stroke-width="0.9"/>
<line x1="42.14" y1="264.5" x2="47.14" y2="264.5" stroke="#e8432f" stroke-width="0.9"/>
<rect x="42.44" y="258.8" width="4.4" height="4.4" fill="#e8432f"/>
<line x1="56.98" y1="265.9" x2="56.98" y2="259.5" stroke="#e8432f" stroke-width="0.9"/>
<line x1="54.48" y1="259.5" x2="59.48" y2="259.5" stroke="#e8432f" stroke-width="0.9"/>
<line x1="54.48" y1="265.9" x2="59.48" y2="265.9" stroke="#e8432f" stroke-width="0.9"/>
<rect x="54.78" y="260.5" width="4.4" height="4.4" fill="#e8432f"/>
<line x1="69.32" y1="243.3" x2="69.32" y2="228.5" stroke="#e8432f" stroke-width="0.9"/>
<line x1="66.82" y1="228.5" x2="71.82" y2="228.5" stroke="#e8432f" stroke-width="0.9"/>
<line x1="66.82" y1="243.3" x2="71.82" y2="243.3" stroke="#e8432f" stroke-width="0.9"/>
<rect x="67.12" y="233.7" width="4.4" height="4.4" fill="#e8432f"/>
<line x1="81.66" y1="241.5" x2="81.66" y2="225.5" stroke="#e8432f" stroke-width="0.9"/>
<line x1="79.16" y1="225.5" x2="84.16" y2="225.5" stroke="#e8432f" stroke-width="0.9"/>
<line x1="79.16" y1="241.5" x2="84.16" y2="241.5" stroke="#e8432f" stroke-width="0.9"/>
<rect x="79.46" y="231.3" width="4.4" height="4.4" fill="#e8432f"/>
<line x1="94" y1="242.5" x2="94" y2="225.5" stroke="#e8432f" stroke-width="0.9"/>
<line x1="91.5" y1="225.5" x2="96.5" y2="225.5" stroke="#e8432f" stroke-width="0.9"/>
<line x1="91.5" y1="242.5" x2="96.5" y2="242.5" stroke="#e8432f" stroke-width="0.9"/>
<rect x="91.8" y="231.8" width="4.4" height="4.4" fill="#e8432f"/>
<line x1="106.34" y1="225.7" x2="106.34" y2="202.3" stroke="#e8432f" stroke-width="0.9"/>
<line x1="103.84" y1="202.3" x2="108.84" y2="202.3" stroke="#e8432f" stroke-width="0.9"/>
<line x1="103.84" y1="225.7" x2="108.84" y2="225.7" stroke="#e8432f" stroke-width="0.9"/>
<rect x="104.14" y="211.8" width="4.4" height="4.4" fill="#e8432f"/>
<line x1="118.68" y1="234.5" x2="118.68" y2="214.1" stroke="#e8432f" stroke-width="0.9"/>
<line x1="116.18" y1="214.1" x2="121.18" y2="214.1" stroke="#e8432f" stroke-width="0.9"/>
<line x1="116.18" y1="234.5" x2="121.18" y2="234.5" stroke="#e8432f" stroke-width="0.9"/>
<rect x="116.48" y="222.1" width="4.4" height="4.4" fill="#e8432f"/>
<line x1="131.02" y1="237.7" x2="131.02" y2="221.9" stroke="#e8432f" stroke-width="0.9"/>
<line x1="128.52" y1="221.9" x2="133.52" y2="221.9" stroke="#e8432f" stroke-width="0.9"/>
<line x1="128.52" y1="237.7" x2="133.52" y2="237.7" stroke="#e8432f" stroke-width="0.9"/>
<rect x="128.82" y="227.6" width="4.4" height="4.4" fill="#e8432f"/>
<line x1="143.36" y1="269.2" x2="143.36" y2="264.2" stroke="#e8432f" stroke-width="0.9"/>
<line x1="140.86" y1="264.2" x2="145.86" y2="264.2" stroke="#e8432f" stroke-width="0.9"/>
<line x1="140.86" y1="269.2" x2="145.86" y2="269.2" stroke="#e8432f" stroke-width="0.9"/>
<rect x="141.16" y="264.5" width="4.4" height="4.4" fill="#e8432f"/>
<line x1="155.7" y1="269.8" x2="155.7" y2="265.4" stroke="#e8432f" stroke-width="0.9"/>
<line x1="153.2" y1="265.4" x2="158.2" y2="265.4" stroke="#e8432f" stroke-width="0.9"/>
<line x1="153.2" y1="269.8" x2="158.2" y2="269.8" stroke="#e8432f" stroke-width="0.9"/>
<rect x="153.5" y="265.4" width="4.4" height="4.4" fill="#e8432f"/>
<line x1="168.04" y1="271.3" x2="168.04" y2="265.7" stroke="#e8432f" stroke-width="0.9"/>
<line x1="165.54" y1="265.7" x2="170.54" y2="265.7" stroke="#e8432f" stroke-width="0.9"/>
<line x1="165.54" y1="271.3" x2="170.54" y2="271.3" stroke="#e8432f" stroke-width="0.9"/>
<rect x="165.84" y="266.3" width="4.4" height="4.4" fill="#e8432f"/>
<polyline points="32.3,270.9 44.64,269.2 56.98,271.3 69.32,259.6 81.66,259.6 94,259.6 106.34,252.5 118.68,261 131.02,262.5 143.36,275.4 155.7,274.6 168.04,275.4" fill="none" stroke="#3561b3" stroke-width="1.1"/>
<circle cx="32.3" cy="270.9" r="2.3" fill="#3561b3"/>
<circle cx="44.64" cy="269.2" r="2.3" fill="#3561b3"/>
<circle cx="56.98" cy="271.3" r="2.3" fill="#3561b3"/>
<circle cx="69.32" cy="259.6" r="2.3" fill="#3561b3"/>
<circle cx="81.66" cy="259.6" r="2.3" fill="#3561b3"/>
<line x1="94" y1="261.8" x2="94" y2="257.4" stroke="#3561b3" stroke-width="0.9"/>
<line x1="91.5" y1="257.4" x2="96.5" y2="257.4" stroke="#3561b3" stroke-width="0.9"/>
<line x1="91.5" y1="261.8" x2="96.5" y2="261.8" stroke="#3561b3" stroke-width="0.9"/>
<circle cx="94" cy="259.6" r="2.3" fill="#3561b3"/>
<line x1="106.34" y1="256" x2="106.34" y2="249" stroke="#3561b3" stroke-width="0.9"/>
<line x1="103.84" y1="249" x2="108.84" y2="249" stroke="#3561b3" stroke-width="0.9"/>
<line x1="103.84" y1="256" x2="108.84" y2="256" stroke="#3561b3" stroke-width="0.9"/>
<circle cx="106.34" cy="252.5" r="2.3" fill="#3561b3"/>
<line x1="118.68" y1="263.2" x2="118.68" y2="258.8" stroke="#3561b3" stroke-width="0.9"/>
<line x1="116.18" y1="258.8" x2="121.18" y2="258.8" stroke="#3561b3" stroke-width="0.9"/>
<line x1="116.18" y1="263.2" x2="121.18" y2="263.2" stroke="#3561b3" stroke-width="0.9"/>
<circle cx="118.68" cy="261" r="2.3" fill="#3561b3"/>
<circle cx="131.02" cy="262.5" r="2.3" fill="#3561b3"/>
<circle cx="143.36" cy="275.4" r="2.3" fill="#3561b3"/>
<circle cx="155.7" cy="274.6" r="2.3" fill="#3561b3"/>
<circle cx="168.04" cy="275.4" r="2.3" fill="#3561b3"/>
<line x1="239" y1="192.1" x2="239" y2="292.9" stroke="#161616" stroke-width="1.2"/>
<line x1="235" y1="292.3" x2="239" y2="292.3" stroke="#161616" stroke-width="1.2"/>
<text x="234.3" y="295.23" font-size="10.8" text-anchor="end">0</text>
<line x1="235" y1="259.1" x2="239" y2="259.1" stroke="#161616" stroke-width="1.2"/>
<text x="234.3" y="262.03" font-size="10.8" text-anchor="end">5</text>
<line x1="235" y1="225.9" x2="239" y2="225.9" stroke="#161616" stroke-width="1.2"/>
<text x="234.3" y="228.83" font-size="10.8" text-anchor="end">10</text>
<line x1="235" y1="192.7" x2="239" y2="192.7" stroke="#161616" stroke-width="1.2"/>
<text x="234.3" y="195.63" font-size="10.8" text-anchor="end">15</text>
<line x1="238.4" y1="292.3" x2="305.6" y2="292.3" stroke="#161616" stroke-width="1.2"/>
<line x1="258.3" y1="292.3" x2="258.3" y2="296.3" stroke="#161616" stroke-width="1.2"/>
<line x1="286.6" y1="292.3" x2="286.6" y2="296.3" stroke="#161616" stroke-width="1.2"/>
<rect x="249.7" y="271.7" width="17.2" height="20.6" fill="#8ea4d6" stroke="#3561b3" stroke-width="1"/>
<rect x="278" y="233.9" width="17.2" height="58.4" fill="#eb958b" stroke="#e8432f" stroke-width="1"/>
<line x1="258.3" y1="277.2" x2="258.3" y2="264.4" stroke="#3561b3" stroke-width="1"/>
<line x1="253.3" y1="264.4" x2="263.3" y2="264.4" stroke="#3561b3" stroke-width="1"/>
<line x1="253.3" y1="277.2" x2="263.3" y2="277.2" stroke="#3561b3" stroke-width="1"/>
<line x1="286.6" y1="248.6" x2="286.6" y2="217.6" stroke="#e8432f" stroke-width="1"/>
<line x1="281.6" y1="217.6" x2="291.6" y2="217.6" stroke="#e8432f" stroke-width="1"/>
<line x1="281.6" y1="248.6" x2="291.6" y2="248.6" stroke="#e8432f" stroke-width="1"/>
<circle cx="258.3" cy="257.9" r="1.5" fill="#3561b3"/>
<circle cx="252.1" cy="269.7" r="1.5" fill="#3561b3"/>
<circle cx="264.2" cy="267" r="1.5" fill="#3561b3"/>
<circle cx="264.2" cy="269.7" r="1.5" fill="#3561b3"/>
<circle cx="264.2" cy="272.4" r="1.5" fill="#3561b3"/>
<circle cx="258.3" cy="275.1" r="1.5" fill="#3561b3"/>
<circle cx="252.1" cy="278.1" r="1.5" fill="#3561b3"/>
<circle cx="264.2" cy="276.7" r="1.5" fill="#3561b3"/>
<circle cx="283.5" cy="215.8" r="1.5" fill="#e8432f"/>
<circle cx="289.8" cy="213.1" r="1.5" fill="#e8432f"/>
<circle cx="286.6" cy="221.2" r="1.5" fill="#e8432f"/>
<circle cx="286.6" cy="230.7" r="1.5" fill="#e8432f"/>
<circle cx="286.6" cy="236.8" r="1.5" fill="#e8432f"/>
<circle cx="286.6" cy="240.1" r="1.5" fill="#e8432f"/>
<circle cx="286.6" cy="246.5" r="1.5" fill="#e8432f"/>
<circle cx="286.6" cy="257.6" r="1.5" fill="#e8432f"/>
<polyline points="258.3,251.9 258.3,201.4 286.6,201.4 286.6,207.9" fill="none" stroke="#161616" stroke-width="1.2"/>
<text x="272.4" y="196.95" font-size="8.3" text-anchor="middle" textLength="33.8" lengthAdjust="spacingAndGlyphs">P=0.0002</text>
<text transform="translate(222.9 242.6) rotate(-90)" font-size="10.8" text-anchor="middle" textLength="100" lengthAdjust="spacingAndGlyphs">Glycolysis (mpH/min)</text>
<line x1="350.2" y1="192.45" x2="350.2" y2="292.9" stroke="#161616" stroke-width="1.2"/>
<line x1="346.2" y1="292.3" x2="350.2" y2="292.3" stroke="#161616" stroke-width="1.2"/>
<text x="347" y="295.23" font-size="10.8" text-anchor="end">0</text>
<line x1="346.2" y1="272.45" x2="350.2" y2="272.45" stroke="#161616" stroke-width="1.2"/>
<text x="347" y="275.38" font-size="10.8" text-anchor="end">5</text>
<line x1="346.2" y1="252.6" x2="350.2" y2="252.6" stroke="#161616" stroke-width="1.2"/>
<text x="347" y="255.53" font-size="10.8" text-anchor="end">10</text>
<line x1="346.2" y1="232.75" x2="350.2" y2="232.75" stroke="#161616" stroke-width="1.2"/>
<text x="347" y="235.68" font-size="10.8" text-anchor="end">15</text>
<line x1="346.2" y1="212.9" x2="350.2" y2="212.9" stroke="#161616" stroke-width="1.2"/>
<text x="347" y="215.83" font-size="10.8" text-anchor="end">20</text>
<line x1="346.2" y1="193.05" x2="350.2" y2="193.05" stroke="#161616" stroke-width="1.2"/>
<text x="347" y="195.98" font-size="10.8" text-anchor="end">25</text>
<line x1="349.6" y1="292.3" x2="416.6" y2="292.3" stroke="#161616" stroke-width="1.2"/>
<line x1="369.2" y1="292.3" x2="369.2" y2="296.3" stroke="#161616" stroke-width="1.2"/>
<line x1="397.3" y1="292.3" x2="397.3" y2="296.3" stroke="#161616" stroke-width="1.2"/>
<rect x="360.6" y="272.8" width="17.2" height="19.5" fill="#8ea4d6" stroke="#3561b3" stroke-width="1"/>
<rect x="388.7" y="235" width="17.2" height="57.3" fill="#eb958b" stroke="#e8432f" stroke-width="1"/>
<line x1="369.2" y1="279.4" x2="369.2" y2="264.4" stroke="#3561b3" stroke-width="1"/>
<line x1="364.2" y1="264.4" x2="374.2" y2="264.4" stroke="#3561b3" stroke-width="1"/>
<line x1="364.2" y1="279.4" x2="374.2" y2="279.4" stroke="#3561b3" stroke-width="1"/>
<line x1="397.3" y1="249" x2="397.3" y2="218.2" stroke="#e8432f" stroke-width="1"/>
<line x1="392.3" y1="218.2" x2="402.3" y2="218.2" stroke="#e8432f" stroke-width="1"/>
<line x1="392.3" y1="249" x2="402.3" y2="249" stroke="#e8432f" stroke-width="1"/>
<circle cx="369.2" cy="255.2" r="1.5" fill="#3561b3"/>
<circle cx="363" cy="271.5" r="1.5" fill="#3561b3"/>
<circle cx="375.3" cy="268.9" r="1.5" fill="#3561b3"/>
<circle cx="369.2" cy="272.9" r="1.5" fill="#3561b3"/>
<circle cx="363" cy="278.4" r="1.5" fill="#3561b3"/>
<circle cx="369.2" cy="278.4" r="1.5" fill="#3561b3"/>
<circle cx="375.3" cy="278.4" r="1.5" fill="#3561b3"/>
<circle cx="375.3" cy="272.3" r="1.5" fill="#3561b3"/>
<circle cx="397.3" cy="212.5" r="1.5" fill="#e8432f"/>
<circle cx="397.3" cy="217.1" r="1.5" fill="#e8432f"/>
<circle cx="397.3" cy="226.8" r="1.5" fill="#e8432f"/>
<circle cx="397.3" cy="230.2" r="1.5" fill="#e8432f"/>
<circle cx="397.3" cy="236.4" r="1.5" fill="#e8432f"/>
<circle cx="397.3" cy="239.9" r="1.5" fill="#e8432f"/>
<circle cx="397.3" cy="244.4" r="1.5" fill="#e8432f"/>
<circle cx="397.3" cy="260.4" r="1.5" fill="#e8432f"/>
<polyline points="369.2,248.8 369.2,200.8 397.3,200.8 397.3,206.9" fill="none" stroke="#161616" stroke-width="1.2"/>
<text x="383.2" y="196.25" font-size="8.3" text-anchor="middle" textLength="34.2" lengthAdjust="spacingAndGlyphs">P=0.0003</text>
<text transform="translate(320.9 244.3) rotate(-90)" font-size="10.8" text-anchor="middle" textLength="88.6" lengthAdjust="spacingAndGlyphs">Glycolytic Capacity</text>
<text transform="translate(334.5 242.6) rotate(-90)" font-size="10.8" text-anchor="middle" textLength="50.4" lengthAdjust="spacingAndGlyphs">(mpH/min)</text>
<line x1="458.2" y1="193" x2="458.2" y2="293.2" stroke="#161616" stroke-width="1.2"/>
<line x1="454.2" y1="292.6" x2="458.2" y2="292.6" stroke="#161616" stroke-width="1.2"/>
<text x="454.5" y="295.53" font-size="10.8" text-anchor="end">0</text>
<line x1="454.2" y1="267.85" x2="458.2" y2="267.85" stroke="#161616" stroke-width="1.2"/>
<text x="454.5" y="270.78" font-size="10.8" text-anchor="end">5</text>
<line x1="454.2" y1="243.1" x2="458.2" y2="243.1" stroke="#161616" stroke-width="1.2"/>
<text x="454.5" y="246.03" font-size="10.8" text-anchor="end">10</text>
<line x1="454.2" y1="218.35" x2="458.2" y2="218.35" stroke="#161616" stroke-width="1.2"/>
<text x="454.5" y="221.28" font-size="10.8" text-anchor="end">15</text>
<line x1="454.2" y1="193.6" x2="458.2" y2="193.6" stroke="#161616" stroke-width="1.2"/>
<text x="454.5" y="196.53" font-size="10.8" text-anchor="end">20</text>
<line x1="457.6" y1="292.6" x2="522.4" y2="292.6" stroke="#161616" stroke-width="1.2"/>
<line x1="477.2" y1="292.6" x2="477.2" y2="296.6" stroke="#161616" stroke-width="1.2"/>
<line x1="504.9" y1="292.6" x2="504.9" y2="296.6" stroke="#161616" stroke-width="1.2"/>
<rect x="468.9" y="240.8" width="16.6" height="51.8" fill="#8ea4d6" stroke="#3561b3" stroke-width="1"/>
<rect x="496.6" y="216.6" width="16.6" height="76" fill="#eb958b" stroke="#e8432f" stroke-width="1"/>
<line x1="477.2" y1="243.8" x2="477.2" y2="237.7" stroke="#3561b3" stroke-width="1"/>
<line x1="472.2" y1="237.7" x2="482.2" y2="237.7" stroke="#3561b3" stroke-width="1"/>
<line x1="472.2" y1="243.8" x2="482.2" y2="243.8" stroke="#3561b3" stroke-width="1"/>
<line x1="504.9" y1="218.5" x2="504.9" y2="212.5" stroke="#e8432f" stroke-width="1"/>
<line x1="499.9" y1="212.5" x2="509.9" y2="212.5" stroke="#e8432f" stroke-width="1"/>
<line x1="499.9" y1="218.5" x2="509.9" y2="218.5" stroke="#e8432f" stroke-width="1"/>
<circle cx="477.2" cy="232.2" r="1.5" fill="#3561b3"/>
<circle cx="477.2" cy="236.9" r="1.5" fill="#3561b3"/>
<circle cx="471" cy="240.1" r="1.5" fill="#3561b3"/>
<circle cx="477.2" cy="242.3" r="1.5" fill="#3561b3"/>
<circle cx="483" cy="242.7" r="1.5" fill="#3561b3"/>
<circle cx="471" cy="245.1" r="1.5" fill="#3561b3"/>
<circle cx="504.9" cy="204.2" r="1.5" fill="#e8432f"/>
<circle cx="504.9" cy="207.7" r="1.5" fill="#e8432f"/>
<circle cx="498.9" cy="209.4" r="1.5" fill="#e8432f"/>
<circle cx="510.9" cy="209.4" r="1.5" fill="#e8432f"/>
<circle cx="501.9" cy="222.6" r="1.5" fill="#e8432f"/>
<circle cx="507.9" cy="223" r="1.5" fill="#e8432f"/>
<circle cx="504.9" cy="229.9" r="1.5" fill="#e8432f"/>
<polyline points="477.2,226.5 477.2,192.7 504.9,192.7 504.9,198.6" fill="none" stroke="#161616" stroke-width="1.2"/>
<text x="490.7" y="188.35" font-size="8.3" text-anchor="middle" textLength="34.2" lengthAdjust="spacingAndGlyphs">P&lt;0.0001</text>
<text transform="translate(440.9 243.25) rotate(-90)" font-size="10.8" text-anchor="middle" textLength="104.5" lengthAdjust="spacingAndGlyphs">MFI of 2-NBDG (x10<tspan font-size="6.3" dy="-4">4</tspan><tspan dy="4">)</tspan></text>
<circle cx="523.3" cy="217.6" r="1.5" fill="#3561b3"/>
<circle cx="523.3" cy="229.8" r="1.5" fill="#e8432f"/>
<text x="529.6" y="221" font-size="10.9" textLength="29" lengthAdjust="spacingAndGlyphs"><tspan font-style="italic">Ei24</tspan><tspan font-size="6.54" dy="-3.92">fl/fl</tspan></text>
<text x="529.6" y="233.2" font-size="10.9" textLength="61.4" lengthAdjust="spacingAndGlyphs"><tspan font-style="italic">Lyz2</tspan><tspan font-size="6.54" dy="-3.92">cre</tspan><tspan dy="3.92" font-style="italic">Ei24</tspan><tspan font-size="6.54" dy="-3.92">fl/fl</tspan></text>
<line x1="34.4" y1="381.7" x2="34.4" y2="484.1" stroke="#161616" stroke-width="1.2"/>
<line x1="30.4" y1="483.5" x2="34.4" y2="483.5" stroke="#161616" stroke-width="1.2"/>
<text x="31.5" y="486.43" font-size="10.8" text-anchor="end">0</text>
<line x1="30.4" y1="449.77" x2="34.4" y2="449.77" stroke="#161616" stroke-width="1.2"/>
<text x="31.5" y="452.7" font-size="10.8" text-anchor="end">100</text>
<line x1="30.4" y1="416.04" x2="34.4" y2="416.04" stroke="#161616" stroke-width="1.2"/>
<text x="31.5" y="418.97" font-size="10.8" text-anchor="end">200</text>
<line x1="30.4" y1="382.31" x2="34.4" y2="382.31" stroke="#161616" stroke-width="1.2"/>
<text x="31.5" y="385.24" font-size="10.8" text-anchor="end">300</text>
<line x1="33.8" y1="483.5" x2="185.1" y2="483.5" stroke="#161616" stroke-width="1.2"/>
<line x1="34.4" y1="483.5" x2="34.4" y2="487.5" stroke="#161616" stroke-width="1.2"/>
<line x1="97.6" y1="483.5" x2="97.6" y2="487.5" stroke="#161616" stroke-width="1.2"/>
<line x1="160.8" y1="483.5" x2="160.8" y2="487.5" stroke="#161616" stroke-width="1.2"/>
<text x="35.6" y="495.5" font-size="10.8" text-anchor="middle">0</text>
<text x="101.2" y="495.5" font-size="10.8" text-anchor="middle">50</text>
<text x="163.3" y="495.5" font-size="10.8" text-anchor="middle">100</text>
<text x="74.9" y="505.4" font-size="10.8" textLength="70" lengthAdjust="spacingAndGlyphs">Time (minutes)</text>
<text transform="translate(11.2 432.6) rotate(-90)" font-size="10.8" text-anchor="middle" textLength="76.6" lengthAdjust="spacingAndGlyphs">OCR (pmol/min)</text>
<line x1="61.3" y1="381.95" x2="61.3" y2="483" stroke="#333" stroke-width="1.2" stroke-dasharray="1.3 2.65"/>
<line x1="102.8" y1="381.95" x2="102.8" y2="483" stroke="#333" stroke-width="1.2" stroke-dasharray="1.3 2.65"/>
<line x1="128.1" y1="381.95" x2="128.1" y2="483" stroke="#333" stroke-width="1.2" stroke-dasharray="1.3 2.65"/>
<line x1="153.4" y1="381.95" x2="153.4" y2="483" stroke="#333" stroke-width="1.2" stroke-dasharray="1.3 2.65"/>
<text x="47.3" y="378.9" font-size="8.5" textLength="27.6" lengthAdjust="spacingAndGlyphs">Inhibitor</text>
<text x="84.1" y="370.7" font-size="8.5" textLength="37.8" lengthAdjust="spacingAndGlyphs">Oligomycin</text>
<text x="118.3" y="378.7" font-size="8.5" textLength="20.2" lengthAdjust="spacingAndGlyphs">FCCP</text>
<text x="137" y="370.7" font-size="8.5" textLength="33.3" lengthAdjust="spacingAndGlyphs">Rotenone</text>
<polyline points="36.1,460.3 44.5,460.3 52.9,460.3 61.3,460.3 69.7,460.3 78.1,460.3 86.5,460.3 94.9,460.3 103.3,460.3 111.7,470.8 120.1,470.8 128.5,470.8 136.9,438.8 145.3,442.5 153.7,447 162.1,473.4 170.5,473.4 178.9,473.4" fill="none" stroke="#f0a235" stroke-width="1.1"/>
<line x1="36.1" y1="463.3" x2="36.1" y2="457.3" stroke="#f0a235" stroke-width="0.9"/>
<line x1="33.6" y1="457.3" x2="38.6" y2="457.3" stroke="#f0a235" stroke-width="0.9"/>
<line x1="33.6" y1="463.3" x2="38.6" y2="463.3" stroke="#f0a235" stroke-width="0.9"/>
<circle cx="36.1" cy="460.3" r="2.2" fill="#f0a235"/>
<line x1="44.5" y1="463.3" x2="44.5" y2="457.3" stroke="#f0a235" stroke-width="0.9"/>
<line x1="42" y1="457.3" x2="47" y2="457.3" stroke="#f0a235" stroke-width="0.9"/>
<line x1="42" y1="463.3" x2="47" y2="463.3" stroke="#f0a235" stroke-width="0.9"/>
<circle cx="44.5" cy="460.3" r="2.2" fill="#f0a235"/>
<line x1="52.9" y1="463.3" x2="52.9" y2="457.3" stroke="#f0a235" stroke-width="0.9"/>
<line x1="50.4" y1="457.3" x2="55.4" y2="457.3" stroke="#f0a235" stroke-width="0.9"/>
<line x1="50.4" y1="463.3" x2="55.4" y2="463.3" stroke="#f0a235" stroke-width="0.9"/>
<circle cx="52.9" cy="460.3" r="2.2" fill="#f0a235"/>
<line x1="61.3" y1="463.3" x2="61.3" y2="457.3" stroke="#f0a235" stroke-width="0.9"/>
<line x1="58.8" y1="457.3" x2="63.8" y2="457.3" stroke="#f0a235" stroke-width="0.9"/>
<line x1="58.8" y1="463.3" x2="63.8" y2="463.3" stroke="#f0a235" stroke-width="0.9"/>
<circle cx="61.3" cy="460.3" r="2.2" fill="#f0a235"/>
<line x1="69.7" y1="463.3" x2="69.7" y2="457.3" stroke="#f0a235" stroke-width="0.9"/>
<line x1="67.2" y1="457.3" x2="72.2" y2="457.3" stroke="#f0a235" stroke-width="0.9"/>
<line x1="67.2" y1="463.3" x2="72.2" y2="463.3" stroke="#f0a235" stroke-width="0.9"/>
<circle cx="69.7" cy="460.3" r="2.2" fill="#f0a235"/>
<line x1="78.1" y1="463.3" x2="78.1" y2="457.3" stroke="#f0a235" stroke-width="0.9"/>
<line x1="75.6" y1="457.3" x2="80.6" y2="457.3" stroke="#f0a235" stroke-width="0.9"/>
<line x1="75.6" y1="463.3" x2="80.6" y2="463.3" stroke="#f0a235" stroke-width="0.9"/>
<circle cx="78.1" cy="460.3" r="2.2" fill="#f0a235"/>
<line x1="86.5" y1="463.3" x2="86.5" y2="457.3" stroke="#f0a235" stroke-width="0.9"/>
<line x1="84" y1="457.3" x2="89" y2="457.3" stroke="#f0a235" stroke-width="0.9"/>
<line x1="84" y1="463.3" x2="89" y2="463.3" stroke="#f0a235" stroke-width="0.9"/>
<circle cx="86.5" cy="460.3" r="2.2" fill="#f0a235"/>
<line x1="94.9" y1="463.3" x2="94.9" y2="457.3" stroke="#f0a235" stroke-width="0.9"/>
<line x1="92.4" y1="457.3" x2="97.4" y2="457.3" stroke="#f0a235" stroke-width="0.9"/>
<line x1="92.4" y1="463.3" x2="97.4" y2="463.3" stroke="#f0a235" stroke-width="0.9"/>
<circle cx="94.9" cy="460.3" r="2.2" fill="#f0a235"/>
<line x1="103.3" y1="463.3" x2="103.3" y2="457.3" stroke="#f0a235" stroke-width="0.9"/>
<line x1="100.8" y1="457.3" x2="105.8" y2="457.3" stroke="#f0a235" stroke-width="0.9"/>
<line x1="100.8" y1="463.3" x2="105.8" y2="463.3" stroke="#f0a235" stroke-width="0.9"/>
<circle cx="103.3" cy="460.3" r="2.2" fill="#f0a235"/>
<line x1="111.7" y1="472.3" x2="111.7" y2="469.3" stroke="#f0a235" stroke-width="0.9"/>
<line x1="109.2" y1="469.3" x2="114.2" y2="469.3" stroke="#f0a235" stroke-width="0.9"/>
<line x1="109.2" y1="472.3" x2="114.2" y2="472.3" stroke="#f0a235" stroke-width="0.9"/>
<circle cx="111.7" cy="470.8" r="2.2" fill="#f0a235"/>
<line x1="120.1" y1="472.3" x2="120.1" y2="469.3" stroke="#f0a235" stroke-width="0.9"/>
<line x1="117.6" y1="469.3" x2="122.6" y2="469.3" stroke="#f0a235" stroke-width="0.9"/>
<line x1="117.6" y1="472.3" x2="122.6" y2="472.3" stroke="#f0a235" stroke-width="0.9"/>
<circle cx="120.1" cy="470.8" r="2.2" fill="#f0a235"/>
<line x1="128.5" y1="472.3" x2="128.5" y2="469.3" stroke="#f0a235" stroke-width="0.9"/>
<line x1="126" y1="469.3" x2="131" y2="469.3" stroke="#f0a235" stroke-width="0.9"/>
<line x1="126" y1="472.3" x2="131" y2="472.3" stroke="#f0a235" stroke-width="0.9"/>
<circle cx="128.5" cy="470.8" r="2.2" fill="#f0a235"/>
<line x1="136.9" y1="444.8" x2="136.9" y2="432.8" stroke="#f0a235" stroke-width="0.9"/>
<line x1="134.4" y1="432.8" x2="139.4" y2="432.8" stroke="#f0a235" stroke-width="0.9"/>
<line x1="134.4" y1="444.8" x2="139.4" y2="444.8" stroke="#f0a235" stroke-width="0.9"/>
<circle cx="136.9" cy="438.8" r="2.2" fill="#f0a235"/>
<line x1="145.3" y1="447.5" x2="145.3" y2="437.5" stroke="#f0a235" stroke-width="0.9"/>
<line x1="142.8" y1="437.5" x2="147.8" y2="437.5" stroke="#f0a235" stroke-width="0.9"/>
<line x1="142.8" y1="447.5" x2="147.8" y2="447.5" stroke="#f0a235" stroke-width="0.9"/>
<circle cx="145.3" cy="442.5" r="2.2" fill="#f0a235"/>
<line x1="153.7" y1="452" x2="153.7" y2="442" stroke="#f0a235" stroke-width="0.9"/>
<line x1="151.2" y1="442" x2="156.2" y2="442" stroke="#f0a235" stroke-width="0.9"/>
<line x1="151.2" y1="452" x2="156.2" y2="452" stroke="#f0a235" stroke-width="0.9"/>
<circle cx="153.7" cy="447" r="2.2" fill="#f0a235"/>
<line x1="162.1" y1="474.9" x2="162.1" y2="471.9" stroke="#f0a235" stroke-width="0.9"/>
<line x1="159.6" y1="471.9" x2="164.6" y2="471.9" stroke="#f0a235" stroke-width="0.9"/>
<line x1="159.6" y1="474.9" x2="164.6" y2="474.9" stroke="#f0a235" stroke-width="0.9"/>
<circle cx="162.1" cy="473.4" r="2.2" fill="#f0a235"/>
<line x1="170.5" y1="474.9" x2="170.5" y2="471.9" stroke="#f0a235" stroke-width="0.9"/>
<line x1="168" y1="471.9" x2="173" y2="471.9" stroke="#f0a235" stroke-width="0.9"/>
<line x1="168" y1="474.9" x2="173" y2="474.9" stroke="#f0a235" stroke-width="0.9"/>
<circle cx="170.5" cy="473.4" r="2.2" fill="#f0a235"/>
<line x1="178.9" y1="474.9" x2="178.9" y2="471.9" stroke="#f0a235" stroke-width="0.9"/>
<line x1="176.4" y1="471.9" x2="181.4" y2="471.9" stroke="#f0a235" stroke-width="0.9"/>
<line x1="176.4" y1="474.9" x2="181.4" y2="474.9" stroke="#f0a235" stroke-width="0.9"/>
<circle cx="178.9" cy="473.4" r="2.2" fill="#f0a235"/>
<polyline points="36.1,453.3 44.5,453.3 52.9,453.3 61.3,453.3 69.7,453.3 78.1,453.3 86.5,453.3 94.9,453.3 103.3,453.3 111.7,467.3 120.1,467.3 128.5,467.3 136.9,421.7 145.3,427 153.7,432.2 162.1,470.2 170.5,470.2 178.9,470.2" fill="none" stroke="#cbb08f" stroke-width="1.1"/>
<line x1="36.1" y1="455.8" x2="36.1" y2="450.8" stroke="#cbb08f" stroke-width="0.9"/>
<line x1="33.6" y1="450.8" x2="38.6" y2="450.8" stroke="#cbb08f" stroke-width="0.9"/>
<line x1="33.6" y1="455.8" x2="38.6" y2="455.8" stroke="#cbb08f" stroke-width="0.9"/>
<circle cx="36.1" cy="453.3" r="2.2" fill="#cbb08f"/>
<line x1="44.5" y1="455.8" x2="44.5" y2="450.8" stroke="#cbb08f" stroke-width="0.9"/>
<line x1="42" y1="450.8" x2="47" y2="450.8" stroke="#cbb08f" stroke-width="0.9"/>
<line x1="42" y1="455.8" x2="47" y2="455.8" stroke="#cbb08f" stroke-width="0.9"/>
<circle cx="44.5" cy="453.3" r="2.2" fill="#cbb08f"/>
<line x1="52.9" y1="455.8" x2="52.9" y2="450.8" stroke="#cbb08f" stroke-width="0.9"/>
<line x1="50.4" y1="450.8" x2="55.4" y2="450.8" stroke="#cbb08f" stroke-width="0.9"/>
<line x1="50.4" y1="455.8" x2="55.4" y2="455.8" stroke="#cbb08f" stroke-width="0.9"/>
<circle cx="52.9" cy="453.3" r="2.2" fill="#cbb08f"/>
<line x1="61.3" y1="455.8" x2="61.3" y2="450.8" stroke="#cbb08f" stroke-width="0.9"/>
<line x1="58.8" y1="450.8" x2="63.8" y2="450.8" stroke="#cbb08f" stroke-width="0.9"/>
<line x1="58.8" y1="455.8" x2="63.8" y2="455.8" stroke="#cbb08f" stroke-width="0.9"/>
<circle cx="61.3" cy="453.3" r="2.2" fill="#cbb08f"/>
<line x1="69.7" y1="455.8" x2="69.7" y2="450.8" stroke="#cbb08f" stroke-width="0.9"/>
<line x1="67.2" y1="450.8" x2="72.2" y2="450.8" stroke="#cbb08f" stroke-width="0.9"/>
<line x1="67.2" y1="455.8" x2="72.2" y2="455.8" stroke="#cbb08f" stroke-width="0.9"/>
<circle cx="69.7" cy="453.3" r="2.2" fill="#cbb08f"/>
<line x1="78.1" y1="455.8" x2="78.1" y2="450.8" stroke="#cbb08f" stroke-width="0.9"/>
<line x1="75.6" y1="450.8" x2="80.6" y2="450.8" stroke="#cbb08f" stroke-width="0.9"/>
<line x1="75.6" y1="455.8" x2="80.6" y2="455.8" stroke="#cbb08f" stroke-width="0.9"/>
<circle cx="78.1" cy="453.3" r="2.2" fill="#cbb08f"/>
<line x1="86.5" y1="455.8" x2="86.5" y2="450.8" stroke="#cbb08f" stroke-width="0.9"/>
<line x1="84" y1="450.8" x2="89" y2="450.8" stroke="#cbb08f" stroke-width="0.9"/>
<line x1="84" y1="455.8" x2="89" y2="455.8" stroke="#cbb08f" stroke-width="0.9"/>
<circle cx="86.5" cy="453.3" r="2.2" fill="#cbb08f"/>
<line x1="94.9" y1="455.8" x2="94.9" y2="450.8" stroke="#cbb08f" stroke-width="0.9"/>
<line x1="92.4" y1="450.8" x2="97.4" y2="450.8" stroke="#cbb08f" stroke-width="0.9"/>
<line x1="92.4" y1="455.8" x2="97.4" y2="455.8" stroke="#cbb08f" stroke-width="0.9"/>
<circle cx="94.9" cy="453.3" r="2.2" fill="#cbb08f"/>
<line x1="103.3" y1="455.8" x2="103.3" y2="450.8" stroke="#cbb08f" stroke-width="0.9"/>
<line x1="100.8" y1="450.8" x2="105.8" y2="450.8" stroke="#cbb08f" stroke-width="0.9"/>
<line x1="100.8" y1="455.8" x2="105.8" y2="455.8" stroke="#cbb08f" stroke-width="0.9"/>
<circle cx="103.3" cy="453.3" r="2.2" fill="#cbb08f"/>
<line x1="111.7" y1="468.8" x2="111.7" y2="465.8" stroke="#cbb08f" stroke-width="0.9"/>
<line x1="109.2" y1="465.8" x2="114.2" y2="465.8" stroke="#cbb08f" stroke-width="0.9"/>
<line x1="109.2" y1="468.8" x2="114.2" y2="468.8" stroke="#cbb08f" stroke-width="0.9"/>
<circle cx="111.7" cy="467.3" r="2.2" fill="#cbb08f"/>
<line x1="120.1" y1="468.8" x2="120.1" y2="465.8" stroke="#cbb08f" stroke-width="0.9"/>
<line x1="117.6" y1="465.8" x2="122.6" y2="465.8" stroke="#cbb08f" stroke-width="0.9"/>
<line x1="117.6" y1="468.8" x2="122.6" y2="468.8" stroke="#cbb08f" stroke-width="0.9"/>
<circle cx="120.1" cy="467.3" r="2.2" fill="#cbb08f"/>
<line x1="128.5" y1="468.8" x2="128.5" y2="465.8" stroke="#cbb08f" stroke-width="0.9"/>
<line x1="126" y1="465.8" x2="131" y2="465.8" stroke="#cbb08f" stroke-width="0.9"/>
<line x1="126" y1="468.8" x2="131" y2="468.8" stroke="#cbb08f" stroke-width="0.9"/>
<circle cx="128.5" cy="467.3" r="2.2" fill="#cbb08f"/>
<line x1="136.9" y1="428.7" x2="136.9" y2="414.7" stroke="#cbb08f" stroke-width="0.9"/>
<line x1="134.4" y1="414.7" x2="139.4" y2="414.7" stroke="#cbb08f" stroke-width="0.9"/>
<line x1="134.4" y1="428.7" x2="139.4" y2="428.7" stroke="#cbb08f" stroke-width="0.9"/>
<circle cx="136.9" cy="421.7" r="2.2" fill="#cbb08f"/>
<line x1="145.3" y1="434" x2="145.3" y2="420" stroke="#cbb08f" stroke-width="0.9"/>
<line x1="142.8" y1="420" x2="147.8" y2="420" stroke="#cbb08f" stroke-width="0.9"/>
<line x1="142.8" y1="434" x2="147.8" y2="434" stroke="#cbb08f" stroke-width="0.9"/>
<circle cx="145.3" cy="427" r="2.2" fill="#cbb08f"/>
<line x1="153.7" y1="439.2" x2="153.7" y2="425.2" stroke="#cbb08f" stroke-width="0.9"/>
<line x1="151.2" y1="425.2" x2="156.2" y2="425.2" stroke="#cbb08f" stroke-width="0.9"/>
<line x1="151.2" y1="439.2" x2="156.2" y2="439.2" stroke="#cbb08f" stroke-width="0.9"/>
<circle cx="153.7" cy="432.2" r="2.2" fill="#cbb08f"/>
<line x1="162.1" y1="471.7" x2="162.1" y2="468.7" stroke="#cbb08f" stroke-width="0.9"/>
<line x1="159.6" y1="468.7" x2="164.6" y2="468.7" stroke="#cbb08f" stroke-width="0.9"/>
<line x1="159.6" y1="471.7" x2="164.6" y2="471.7" stroke="#cbb08f" stroke-width="0.9"/>
<circle cx="162.1" cy="470.2" r="2.2" fill="#cbb08f"/>
<line x1="170.5" y1="471.7" x2="170.5" y2="468.7" stroke="#cbb08f" stroke-width="0.9"/>
<line x1="168" y1="468.7" x2="173" y2="468.7" stroke="#cbb08f" stroke-width="0.9"/>
<line x1="168" y1="471.7" x2="173" y2="471.7" stroke="#cbb08f" stroke-width="0.9"/>
<circle cx="170.5" cy="470.2" r="2.2" fill="#cbb08f"/>
<line x1="178.9" y1="471.7" x2="178.9" y2="468.7" stroke="#cbb08f" stroke-width="0.9"/>
<line x1="176.4" y1="468.7" x2="181.4" y2="468.7" stroke="#cbb08f" stroke-width="0.9"/>
<line x1="176.4" y1="471.7" x2="181.4" y2="471.7" stroke="#cbb08f" stroke-width="0.9"/>
<circle cx="178.9" cy="470.2" r="2.2" fill="#cbb08f"/>
<polyline points="36.1,458 44.5,458 52.9,458 61.3,458 69.7,458 78.1,458 86.5,458 94.9,458 103.3,458 111.7,469.6 120.1,469.6 128.5,469.6 136.9,437.5 145.3,440.8 153.7,444.1 162.1,472 170.5,472 178.9,472" fill="none" stroke="#4e9ad8" stroke-width="1.1"/>
<line x1="36.1" y1="460" x2="36.1" y2="456" stroke="#4e9ad8" stroke-width="0.9"/>
<line x1="33.6" y1="456" x2="38.6" y2="456" stroke="#4e9ad8" stroke-width="0.9"/>
<line x1="33.6" y1="460" x2="38.6" y2="460" stroke="#4e9ad8" stroke-width="0.9"/>
<circle cx="36.1" cy="458" r="2.2" fill="#4e9ad8"/>
<line x1="44.5" y1="460" x2="44.5" y2="456" stroke="#4e9ad8" stroke-width="0.9"/>
<line x1="42" y1="456" x2="47" y2="456" stroke="#4e9ad8" stroke-width="0.9"/>
<line x1="42" y1="460" x2="47" y2="460" stroke="#4e9ad8" stroke-width="0.9"/>
<circle cx="44.5" cy="458" r="2.2" fill="#4e9ad8"/>
<line x1="52.9" y1="460" x2="52.9" y2="456" stroke="#4e9ad8" stroke-width="0.9"/>
<line x1="50.4" y1="456" x2="55.4" y2="456" stroke="#4e9ad8" stroke-width="0.9"/>
<line x1="50.4" y1="460" x2="55.4" y2="460" stroke="#4e9ad8" stroke-width="0.9"/>
<circle cx="52.9" cy="458" r="2.2" fill="#4e9ad8"/>
<line x1="61.3" y1="460" x2="61.3" y2="456" stroke="#4e9ad8" stroke-width="0.9"/>
<line x1="58.8" y1="456" x2="63.8" y2="456" stroke="#4e9ad8" stroke-width="0.9"/>
<line x1="58.8" y1="460" x2="63.8" y2="460" stroke="#4e9ad8" stroke-width="0.9"/>
<circle cx="61.3" cy="458" r="2.2" fill="#4e9ad8"/>
<line x1="69.7" y1="460" x2="69.7" y2="456" stroke="#4e9ad8" stroke-width="0.9"/>
<line x1="67.2" y1="456" x2="72.2" y2="456" stroke="#4e9ad8" stroke-width="0.9"/>
<line x1="67.2" y1="460" x2="72.2" y2="460" stroke="#4e9ad8" stroke-width="0.9"/>
<circle cx="69.7" cy="458" r="2.2" fill="#4e9ad8"/>
<line x1="78.1" y1="460" x2="78.1" y2="456" stroke="#4e9ad8" stroke-width="0.9"/>
<line x1="75.6" y1="456" x2="80.6" y2="456" stroke="#4e9ad8" stroke-width="0.9"/>
<line x1="75.6" y1="460" x2="80.6" y2="460" stroke="#4e9ad8" stroke-width="0.9"/>
<circle cx="78.1" cy="458" r="2.2" fill="#4e9ad8"/>
<line x1="86.5" y1="460" x2="86.5" y2="456" stroke="#4e9ad8" stroke-width="0.9"/>
<line x1="84" y1="456" x2="89" y2="456" stroke="#4e9ad8" stroke-width="0.9"/>
<line x1="84" y1="460" x2="89" y2="460" stroke="#4e9ad8" stroke-width="0.9"/>
<circle cx="86.5" cy="458" r="2.2" fill="#4e9ad8"/>
<line x1="94.9" y1="460" x2="94.9" y2="456" stroke="#4e9ad8" stroke-width="0.9"/>
<line x1="92.4" y1="456" x2="97.4" y2="456" stroke="#4e9ad8" stroke-width="0.9"/>
<line x1="92.4" y1="460" x2="97.4" y2="460" stroke="#4e9ad8" stroke-width="0.9"/>
<circle cx="94.9" cy="458" r="2.2" fill="#4e9ad8"/>
<line x1="103.3" y1="460" x2="103.3" y2="456" stroke="#4e9ad8" stroke-width="0.9"/>
<line x1="100.8" y1="456" x2="105.8" y2="456" stroke="#4e9ad8" stroke-width="0.9"/>
<line x1="100.8" y1="460" x2="105.8" y2="460" stroke="#4e9ad8" stroke-width="0.9"/>
<circle cx="103.3" cy="458" r="2.2" fill="#4e9ad8"/>
<line x1="111.7" y1="470.6" x2="111.7" y2="468.6" stroke="#4e9ad8" stroke-width="0.9"/>
<line x1="109.2" y1="468.6" x2="114.2" y2="468.6" stroke="#4e9ad8" stroke-width="0.9"/>
<line x1="109.2" y1="470.6" x2="114.2" y2="470.6" stroke="#4e9ad8" stroke-width="0.9"/>
<circle cx="111.7" cy="469.6" r="2.2" fill="#4e9ad8"/>
<line x1="120.1" y1="470.6" x2="120.1" y2="468.6" stroke="#4e9ad8" stroke-width="0.9"/>
<line x1="117.6" y1="468.6" x2="122.6" y2="468.6" stroke="#4e9ad8" stroke-width="0.9"/>
<line x1="117.6" y1="470.6" x2="122.6" y2="470.6" stroke="#4e9ad8" stroke-width="0.9"/>
<circle cx="120.1" cy="469.6" r="2.2" fill="#4e9ad8"/>
<line x1="128.5" y1="470.6" x2="128.5" y2="468.6" stroke="#4e9ad8" stroke-width="0.9"/>
<line x1="126" y1="468.6" x2="131" y2="468.6" stroke="#4e9ad8" stroke-width="0.9"/>
<line x1="126" y1="470.6" x2="131" y2="470.6" stroke="#4e9ad8" stroke-width="0.9"/>
<circle cx="128.5" cy="469.6" r="2.2" fill="#4e9ad8"/>
<line x1="136.9" y1="441.5" x2="136.9" y2="433.5" stroke="#4e9ad8" stroke-width="0.9"/>
<line x1="134.4" y1="433.5" x2="139.4" y2="433.5" stroke="#4e9ad8" stroke-width="0.9"/>
<line x1="134.4" y1="441.5" x2="139.4" y2="441.5" stroke="#4e9ad8" stroke-width="0.9"/>
<circle cx="136.9" cy="437.5" r="2.2" fill="#4e9ad8"/>
<line x1="145.3" y1="444.3" x2="145.3" y2="437.3" stroke="#4e9ad8" stroke-width="0.9"/>
<line x1="142.8" y1="437.3" x2="147.8" y2="437.3" stroke="#4e9ad8" stroke-width="0.9"/>
<line x1="142.8" y1="444.3" x2="147.8" y2="444.3" stroke="#4e9ad8" stroke-width="0.9"/>
<circle cx="145.3" cy="440.8" r="2.2" fill="#4e9ad8"/>
<line x1="153.7" y1="447.6" x2="153.7" y2="440.6" stroke="#4e9ad8" stroke-width="0.9"/>
<line x1="151.2" y1="440.6" x2="156.2" y2="440.6" stroke="#4e9ad8" stroke-width="0.9"/>
<line x1="151.2" y1="447.6" x2="156.2" y2="447.6" stroke="#4e9ad8" stroke-width="0.9"/>
<circle cx="153.7" cy="444.1" r="2.2" fill="#4e9ad8"/>
<line x1="162.1" y1="473" x2="162.1" y2="471" stroke="#4e9ad8" stroke-width="0.9"/>
<line x1="159.6" y1="471" x2="164.6" y2="471" stroke="#4e9ad8" stroke-width="0.9"/>
<line x1="159.6" y1="473" x2="164.6" y2="473" stroke="#4e9ad8" stroke-width="0.9"/>
<circle cx="162.1" cy="472" r="2.2" fill="#4e9ad8"/>
<line x1="170.5" y1="473" x2="170.5" y2="471" stroke="#4e9ad8" stroke-width="0.9"/>
<line x1="168" y1="471" x2="173" y2="471" stroke="#4e9ad8" stroke-width="0.9"/>
<line x1="168" y1="473" x2="173" y2="473" stroke="#4e9ad8" stroke-width="0.9"/>
<circle cx="170.5" cy="472" r="2.2" fill="#4e9ad8"/>
<line x1="178.9" y1="473" x2="178.9" y2="471" stroke="#4e9ad8" stroke-width="0.9"/>
<line x1="176.4" y1="471" x2="181.4" y2="471" stroke="#4e9ad8" stroke-width="0.9"/>
<line x1="176.4" y1="473" x2="181.4" y2="473" stroke="#4e9ad8" stroke-width="0.9"/>
<circle cx="178.9" cy="472" r="2.2" fill="#4e9ad8"/>
<polyline points="36.1,449.8 44.5,449.8 52.9,449.8 61.3,449.8 69.7,449.8 78.1,449.8 86.5,449.8 94.9,449.8 103.3,449.8 111.7,466.3 120.1,466.3 128.5,466.3 136.9,411.8 145.3,418.4 153.7,424.3 162.1,469.2 170.5,469.2 178.9,469.2" fill="none" stroke="#e8472a" stroke-width="1.1"/>
<line x1="36.1" y1="452.1" x2="36.1" y2="447.5" stroke="#e8472a" stroke-width="0.9"/>
<line x1="33.6" y1="447.5" x2="38.6" y2="447.5" stroke="#e8472a" stroke-width="0.9"/>
<line x1="33.6" y1="452.1" x2="38.6" y2="452.1" stroke="#e8472a" stroke-width="0.9"/>
<circle cx="36.1" cy="449.8" r="2.2" fill="#e8472a"/>
<line x1="44.5" y1="452.1" x2="44.5" y2="447.5" stroke="#e8472a" stroke-width="0.9"/>
<line x1="42" y1="447.5" x2="47" y2="447.5" stroke="#e8472a" stroke-width="0.9"/>
<line x1="42" y1="452.1" x2="47" y2="452.1" stroke="#e8472a" stroke-width="0.9"/>
<circle cx="44.5" cy="449.8" r="2.2" fill="#e8472a"/>
<line x1="52.9" y1="452.1" x2="52.9" y2="447.5" stroke="#e8472a" stroke-width="0.9"/>
<line x1="50.4" y1="447.5" x2="55.4" y2="447.5" stroke="#e8472a" stroke-width="0.9"/>
<line x1="50.4" y1="452.1" x2="55.4" y2="452.1" stroke="#e8472a" stroke-width="0.9"/>
<circle cx="52.9" cy="449.8" r="2.2" fill="#e8472a"/>
<line x1="61.3" y1="452.1" x2="61.3" y2="447.5" stroke="#e8472a" stroke-width="0.9"/>
<line x1="58.8" y1="447.5" x2="63.8" y2="447.5" stroke="#e8472a" stroke-width="0.9"/>
<line x1="58.8" y1="452.1" x2="63.8" y2="452.1" stroke="#e8472a" stroke-width="0.9"/>
<circle cx="61.3" cy="449.8" r="2.2" fill="#e8472a"/>
<line x1="69.7" y1="452.1" x2="69.7" y2="447.5" stroke="#e8472a" stroke-width="0.9"/>
<line x1="67.2" y1="447.5" x2="72.2" y2="447.5" stroke="#e8472a" stroke-width="0.9"/>
<line x1="67.2" y1="452.1" x2="72.2" y2="452.1" stroke="#e8472a" stroke-width="0.9"/>
<circle cx="69.7" cy="449.8" r="2.2" fill="#e8472a"/>
<line x1="78.1" y1="452.1" x2="78.1" y2="447.5" stroke="#e8472a" stroke-width="0.9"/>
<line x1="75.6" y1="447.5" x2="80.6" y2="447.5" stroke="#e8472a" stroke-width="0.9"/>
<line x1="75.6" y1="452.1" x2="80.6" y2="452.1" stroke="#e8472a" stroke-width="0.9"/>
<circle cx="78.1" cy="449.8" r="2.2" fill="#e8472a"/>
<line x1="86.5" y1="452.1" x2="86.5" y2="447.5" stroke="#e8472a" stroke-width="0.9"/>
<line x1="84" y1="447.5" x2="89" y2="447.5" stroke="#e8472a" stroke-width="0.9"/>
<line x1="84" y1="452.1" x2="89" y2="452.1" stroke="#e8472a" stroke-width="0.9"/>
<circle cx="86.5" cy="449.8" r="2.2" fill="#e8472a"/>
<line x1="94.9" y1="452.1" x2="94.9" y2="447.5" stroke="#e8472a" stroke-width="0.9"/>
<line x1="92.4" y1="447.5" x2="97.4" y2="447.5" stroke="#e8472a" stroke-width="0.9"/>
<line x1="92.4" y1="452.1" x2="97.4" y2="452.1" stroke="#e8472a" stroke-width="0.9"/>
<circle cx="94.9" cy="449.8" r="2.2" fill="#e8472a"/>
<line x1="103.3" y1="452.1" x2="103.3" y2="447.5" stroke="#e8472a" stroke-width="0.9"/>
<line x1="100.8" y1="447.5" x2="105.8" y2="447.5" stroke="#e8472a" stroke-width="0.9"/>
<line x1="100.8" y1="452.1" x2="105.8" y2="452.1" stroke="#e8472a" stroke-width="0.9"/>
<circle cx="103.3" cy="449.8" r="2.2" fill="#e8472a"/>
<line x1="111.7" y1="467.8" x2="111.7" y2="464.8" stroke="#e8472a" stroke-width="0.9"/>
<line x1="109.2" y1="464.8" x2="114.2" y2="464.8" stroke="#e8472a" stroke-width="0.9"/>
<line x1="109.2" y1="467.8" x2="114.2" y2="467.8" stroke="#e8472a" stroke-width="0.9"/>
<circle cx="111.7" cy="466.3" r="2.2" fill="#e8472a"/>
<line x1="120.1" y1="467.8" x2="120.1" y2="464.8" stroke="#e8472a" stroke-width="0.9"/>
<line x1="117.6" y1="464.8" x2="122.6" y2="464.8" stroke="#e8472a" stroke-width="0.9"/>
<line x1="117.6" y1="467.8" x2="122.6" y2="467.8" stroke="#e8472a" stroke-width="0.9"/>
<circle cx="120.1" cy="466.3" r="2.2" fill="#e8472a"/>
<line x1="128.5" y1="467.8" x2="128.5" y2="464.8" stroke="#e8472a" stroke-width="0.9"/>
<line x1="126" y1="464.8" x2="131" y2="464.8" stroke="#e8472a" stroke-width="0.9"/>
<line x1="126" y1="467.8" x2="131" y2="467.8" stroke="#e8472a" stroke-width="0.9"/>
<circle cx="128.5" cy="466.3" r="2.2" fill="#e8472a"/>
<line x1="136.9" y1="420.4" x2="136.9" y2="403.2" stroke="#e8472a" stroke-width="0.9"/>
<line x1="134.4" y1="403.2" x2="139.4" y2="403.2" stroke="#e8472a" stroke-width="0.9"/>
<line x1="134.4" y1="420.4" x2="139.4" y2="420.4" stroke="#e8472a" stroke-width="0.9"/>
<circle cx="136.9" cy="411.8" r="2.2" fill="#e8472a"/>
<line x1="145.3" y1="425.6" x2="145.3" y2="411.2" stroke="#e8472a" stroke-width="0.9"/>
<line x1="142.8" y1="411.2" x2="147.8" y2="411.2" stroke="#e8472a" stroke-width="0.9"/>
<line x1="142.8" y1="425.6" x2="147.8" y2="425.6" stroke="#e8472a" stroke-width="0.9"/>
<circle cx="145.3" cy="418.4" r="2.2" fill="#e8472a"/>
<line x1="153.7" y1="431.6" x2="153.7" y2="417" stroke="#e8472a" stroke-width="0.9"/>
<line x1="151.2" y1="417" x2="156.2" y2="417" stroke="#e8472a" stroke-width="0.9"/>
<line x1="151.2" y1="431.6" x2="156.2" y2="431.6" stroke="#e8472a" stroke-width="0.9"/>
<circle cx="153.7" cy="424.3" r="2.2" fill="#e8472a"/>
<line x1="162.1" y1="470.7" x2="162.1" y2="467.7" stroke="#e8472a" stroke-width="0.9"/>
<line x1="159.6" y1="467.7" x2="164.6" y2="467.7" stroke="#e8472a" stroke-width="0.9"/>
<line x1="159.6" y1="470.7" x2="164.6" y2="470.7" stroke="#e8472a" stroke-width="0.9"/>
<circle cx="162.1" cy="469.2" r="2.2" fill="#e8472a"/>
<line x1="170.5" y1="470.7" x2="170.5" y2="467.7" stroke="#e8472a" stroke-width="0.9"/>
<line x1="168" y1="467.7" x2="173" y2="467.7" stroke="#e8472a" stroke-width="0.9"/>
<line x1="168" y1="470.7" x2="173" y2="470.7" stroke="#e8472a" stroke-width="0.9"/>
<circle cx="170.5" cy="469.2" r="2.2" fill="#e8472a"/>
<line x1="178.9" y1="470.7" x2="178.9" y2="467.7" stroke="#e8472a" stroke-width="0.9"/>
<line x1="176.4" y1="467.7" x2="181.4" y2="467.7" stroke="#e8472a" stroke-width="0.9"/>
<line x1="176.4" y1="470.7" x2="181.4" y2="470.7" stroke="#e8472a" stroke-width="0.9"/>
<circle cx="178.9" cy="469.2" r="2.2" fill="#e8472a"/>
<polyline points="36.1,473.1 44.5,473.1 52.9,473.1 61.3,473.1 69.7,473.1 78.1,473.1 86.5,473.1 94.9,473.1 103.3,473.1 111.7,478 120.1,478 128.5,478 136.9,470.8 145.3,470.8 153.7,470.8 162.1,479.7 170.5,479.7 178.9,479.7" fill="none" stroke="#2f57b0" stroke-width="1.1"/>
<circle cx="36.1" cy="473.1" r="2.2" fill="#2f57b0"/>
<circle cx="44.5" cy="473.1" r="2.2" fill="#2f57b0"/>
<circle cx="52.9" cy="473.1" r="2.2" fill="#2f57b0"/>
<circle cx="61.3" cy="473.1" r="2.2" fill="#2f57b0"/>
<circle cx="69.7" cy="473.1" r="2.2" fill="#2f57b0"/>
<circle cx="78.1" cy="473.1" r="2.2" fill="#2f57b0"/>
<circle cx="86.5" cy="473.1" r="2.2" fill="#2f57b0"/>
<circle cx="94.9" cy="473.1" r="2.2" fill="#2f57b0"/>
<circle cx="103.3" cy="473.1" r="2.2" fill="#2f57b0"/>
<circle cx="111.7" cy="478" r="2.2" fill="#2f57b0"/>
<circle cx="120.1" cy="478" r="2.2" fill="#2f57b0"/>
<circle cx="128.5" cy="478" r="2.2" fill="#2f57b0"/>
<circle cx="136.9" cy="470.8" r="2.2" fill="#2f57b0"/>
<circle cx="145.3" cy="470.8" r="2.2" fill="#2f57b0"/>
<circle cx="153.7" cy="470.8" r="2.2" fill="#2f57b0"/>
<circle cx="162.1" cy="479.7" r="2.2" fill="#2f57b0"/>
<circle cx="170.5" cy="479.7" r="2.2" fill="#2f57b0"/>
<circle cx="178.9" cy="479.7" r="2.2" fill="#2f57b0"/>
<line x1="216.5" y1="389" x2="216.5" y2="483.6" stroke="#161616" stroke-width="1.2"/>
<line x1="212.5" y1="483" x2="216.5" y2="483" stroke="#161616" stroke-width="1.2"/>
<text x="211.7" y="485.93" font-size="10.8" text-anchor="end">0</text>
<line x1="212.5" y1="459.65" x2="216.5" y2="459.65" stroke="#161616" stroke-width="1.2"/>
<text x="211.7" y="462.58" font-size="10.8" text-anchor="end">20</text>
<line x1="212.5" y1="436.3" x2="216.5" y2="436.3" stroke="#161616" stroke-width="1.2"/>
<text x="211.7" y="439.23" font-size="10.8" text-anchor="end">40</text>
<line x1="212.5" y1="412.95" x2="216.5" y2="412.95" stroke="#161616" stroke-width="1.2"/>
<text x="211.7" y="415.88" font-size="10.8" text-anchor="end">60</text>
<line x1="212.5" y1="389.6" x2="216.5" y2="389.6" stroke="#161616" stroke-width="1.2"/>
<text x="211.7" y="392.53" font-size="10.8" text-anchor="end">80</text>
<line x1="215.9" y1="483" x2="309.6" y2="483" stroke="#161616" stroke-width="1.2"/>
<line x1="228.6" y1="483" x2="228.6" y2="487" stroke="#161616" stroke-width="1.2"/>
<line x1="246.2" y1="483" x2="246.2" y2="487" stroke="#161616" stroke-width="1.2"/>
<line x1="263.8" y1="483" x2="263.8" y2="487" stroke="#161616" stroke-width="1.2"/>
<line x1="281.3" y1="483" x2="281.3" y2="487" stroke="#161616" stroke-width="1.2"/>
<line x1="298.9" y1="483" x2="298.9" y2="487" stroke="#161616" stroke-width="1.2"/>
<rect x="223.45" y="466.5" width="10.3" height="16.5" fill="#8ea4d6" stroke="#3561b3" stroke-width="1"/>
<rect x="241.05" y="418.6" width="10.3" height="64.4" fill="#eb958b" stroke="#e8432f" stroke-width="1"/>
<rect x="258.65" y="419.3" width="10.3" height="63.7" fill="#d3b994" stroke="#a67c4e" stroke-width="1"/>
<rect x="276.15" y="435.6" width="10.3" height="47.4" fill="#bea2d6" stroke="#8b4fae" stroke-width="1"/>
<rect x="293.75" y="439.9" width="10.3" height="43.1" fill="#f2c583" stroke="#f0a235" stroke-width="1"/>
<line x1="228.6" y1="473.5" x2="228.6" y2="458.4" stroke="#3561b3" stroke-width="1"/>
<line x1="224.85" y1="458.4" x2="232.35" y2="458.4" stroke="#3561b3" stroke-width="1"/>
<line x1="224.85" y1="473.5" x2="232.35" y2="473.5" stroke="#3561b3" stroke-width="1"/>
<line x1="246.2" y1="426" x2="246.2" y2="408.6" stroke="#e8432f" stroke-width="1"/>
<line x1="242.45" y1="408.6" x2="249.95" y2="408.6" stroke="#e8432f" stroke-width="1"/>
<line x1="242.45" y1="426" x2="249.95" y2="426" stroke="#e8432f" stroke-width="1"/>
<line x1="263.8" y1="432.4" x2="263.8" y2="403.4" stroke="#a67c4e" stroke-width="1"/>
<line x1="260.05" y1="403.4" x2="267.55" y2="403.4" stroke="#a67c4e" stroke-width="1"/>
<line x1="260.05" y1="432.4" x2="267.55" y2="432.4" stroke="#a67c4e" stroke-width="1"/>
<line x1="281.3" y1="445.8" x2="281.3" y2="423.1" stroke="#8b4fae" stroke-width="1"/>
<line x1="277.55" y1="423.1" x2="285.05" y2="423.1" stroke="#8b4fae" stroke-width="1"/>
<line x1="277.55" y1="445.8" x2="285.05" y2="445.8" stroke="#8b4fae" stroke-width="1"/>
<line x1="298.9" y1="456.9" x2="298.9" y2="421.2" stroke="#f0a235" stroke-width="1"/>
<line x1="295.15" y1="421.2" x2="302.65" y2="421.2" stroke="#f0a235" stroke-width="1"/>
<line x1="295.15" y1="456.9" x2="302.65" y2="456.9" stroke="#f0a235" stroke-width="1"/>
<circle cx="230.5" cy="453.8" r="1.9" fill="#3561b3"/>
<circle cx="226.2" cy="456.7" r="1.9" fill="#3561b3"/>
<circle cx="226.2" cy="461.6" r="1.9" fill="#3561b3"/>
<circle cx="230.3" cy="461.9" r="1.9" fill="#3561b3"/>
<circle cx="224.2" cy="465.6" r="1.9" fill="#3561b3"/>
<circle cx="232.8" cy="466.8" r="1.9" fill="#3561b3"/>
<circle cx="224.2" cy="469.9" r="1.9" fill="#3561b3"/>
<circle cx="232.8" cy="471.1" r="1.9" fill="#3561b3"/>
<circle cx="228.6" cy="472" r="1.9" fill="#3561b3"/>
<circle cx="228.6" cy="479.4" r="1.9" fill="#3561b3"/>
<circle cx="246.2" cy="402.2" r="1.9" fill="#e8432f"/>
<circle cx="242.2" cy="408" r="1.9" fill="#e8432f"/>
<circle cx="246.2" cy="409.2" r="1.9" fill="#e8432f"/>
<circle cx="246.2" cy="413.3" r="1.9" fill="#e8432f"/>
<circle cx="242" cy="423.1" r="1.9" fill="#e8432f"/>
<circle cx="246.2" cy="420.8" r="1.9" fill="#e8432f"/>
<circle cx="249.5" cy="422.6" r="1.9" fill="#e8432f"/>
<circle cx="246.2" cy="426" r="1.9" fill="#e8432f"/>
<circle cx="249.5" cy="424.9" r="1.9" fill="#e8432f"/>
<circle cx="246.2" cy="430.9" r="1.9" fill="#e8432f"/>
<circle cx="263.8" cy="395.2" r="1.9" fill="#a67c4e"/>
<circle cx="263.8" cy="400.5" r="1.9" fill="#a67c4e"/>
<circle cx="263.8" cy="405.7" r="1.9" fill="#a67c4e"/>
<circle cx="267.8" cy="412.1" r="1.9" fill="#a67c4e"/>
<circle cx="263.8" cy="415" r="1.9" fill="#a67c4e"/>
<circle cx="263.8" cy="423.1" r="1.9" fill="#a67c4e"/>
<circle cx="259.8" cy="429.5" r="1.9" fill="#a67c4e"/>
<circle cx="267.8" cy="429.5" r="1.9" fill="#a67c4e"/>
<circle cx="263.8" cy="430.7" r="1.9" fill="#a67c4e"/>
<circle cx="263.8" cy="438.8" r="1.9" fill="#a67c4e"/>
<circle cx="281.3" cy="417.3" r="1.9" fill="#8b4fae"/>
<circle cx="277.6" cy="428.4" r="1.9" fill="#8b4fae"/>
<circle cx="281.3" cy="427.4" r="1.9" fill="#8b4fae"/>
<circle cx="284" cy="428.4" r="1.9" fill="#8b4fae"/>
<circle cx="279.5" cy="430.9" r="1.9" fill="#8b4fae"/>
<circle cx="285.5" cy="430.5" r="1.9" fill="#8b4fae"/>
<circle cx="281.3" cy="433.3" r="1.9" fill="#8b4fae"/>
<circle cx="281.3" cy="441.2" r="1.9" fill="#8b4fae"/>
<circle cx="281.3" cy="447.2" r="1.9" fill="#8b4fae"/>
<circle cx="281.3" cy="457.2" r="1.9" fill="#8b4fae"/>
<circle cx="294.6" cy="413.3" r="1.9" fill="#f0a235"/>
<circle cx="303.2" cy="412.1" r="1.9" fill="#f0a235"/>
<circle cx="298.9" cy="427.8" r="1.9" fill="#f0a235"/>
<circle cx="298.9" cy="439.4" r="1.9" fill="#f0a235"/>
<circle cx="294.6" cy="443.7" r="1.9" fill="#f0a235"/>
<circle cx="303.2" cy="445.8" r="1.9" fill="#f0a235"/>
<circle cx="294.6" cy="448.7" r="1.9" fill="#f0a235"/>
<circle cx="298.9" cy="457.4" r="1.9" fill="#f0a235"/>
<circle cx="298.9" cy="461.9" r="1.9" fill="#f0a235"/>
<polyline points="228.5,449.6 228.5,384.4 246.2,384.4 246.2,397.3" fill="none" stroke="#161616" stroke-width="1.2"/>
<text x="237" y="382.25" font-size="8.3" text-anchor="middle" textLength="33" lengthAdjust="spacingAndGlyphs">P&lt;0.0001</text>
<polyline points="246.2,373.2 246.2,368.1 263.6,368.1 263.6,384.9" fill="none" stroke="#161616" stroke-width="1.2"/>
<text x="254.9" y="366.15" font-size="8.3" text-anchor="middle" textLength="34.3" lengthAdjust="spacingAndGlyphs">P&gt;0.9999</text>
<polyline points="246.2,357.8 246.2,353.8 281.5,353.8 281.5,404.5" fill="none" stroke="#161616" stroke-width="1.2"/>
<text x="263.8" y="351.05" font-size="8.3" text-anchor="middle" textLength="34.6" lengthAdjust="spacingAndGlyphs">P=0.0413</text>
<polyline points="246.2,343.2 246.2,338.4 298.6,338.4 298.6,410.9" fill="none" stroke="#161616" stroke-width="1.2"/>
<text x="272.5" y="335.95" font-size="8.3" text-anchor="middle" textLength="34.1" lengthAdjust="spacingAndGlyphs">P=0.0060</text>
<text transform="translate(195.2 436.2) rotate(-90)" font-size="10.8" text-anchor="middle" textLength="136.2" lengthAdjust="spacingAndGlyphs">Basal Respiration (pmol/min)</text>
<line x1="345.5" y1="389" x2="345.5" y2="483.6" stroke="#161616" stroke-width="1.2"/>
<line x1="341.5" y1="483" x2="345.5" y2="483" stroke="#161616" stroke-width="1.2"/>
<text x="342" y="485.93" font-size="10.8" text-anchor="end">0</text>
<line x1="341.5" y1="464.32" x2="345.5" y2="464.32" stroke="#161616" stroke-width="1.2"/>
<text x="342" y="467.25" font-size="10.8" text-anchor="end">50</text>
<line x1="341.5" y1="445.64" x2="345.5" y2="445.64" stroke="#161616" stroke-width="1.2"/>
<text x="342" y="448.57" font-size="10.8" text-anchor="end">100</text>
<line x1="341.5" y1="426.96" x2="345.5" y2="426.96" stroke="#161616" stroke-width="1.2"/>
<text x="342" y="429.89" font-size="10.8" text-anchor="end">150</text>
<line x1="341.5" y1="408.28" x2="345.5" y2="408.28" stroke="#161616" stroke-width="1.2"/>
<text x="342" y="411.21" font-size="10.8" text-anchor="end">200</text>
<line x1="341.5" y1="389.6" x2="345.5" y2="389.6" stroke="#161616" stroke-width="1.2"/>
<text x="342" y="392.53" font-size="10.8" text-anchor="end">250</text>
<line x1="344.9" y1="483" x2="439.6" y2="483" stroke="#161616" stroke-width="1.2"/>
<line x1="357.2" y1="483" x2="357.2" y2="487" stroke="#161616" stroke-width="1.2"/>
<line x1="374.8" y1="483" x2="374.8" y2="487" stroke="#161616" stroke-width="1.2"/>
<line x1="392.5" y1="483" x2="392.5" y2="487" stroke="#161616" stroke-width="1.2"/>
<line x1="410.2" y1="483" x2="410.2" y2="487" stroke="#161616" stroke-width="1.2"/>
<line x1="427.8" y1="483" x2="427.8" y2="487" stroke="#161616" stroke-width="1.2"/>
<rect x="352.05" y="474.7" width="10.3" height="8.3" fill="#8ea4d6" stroke="#3561b3" stroke-width="1"/>
<rect x="369.65" y="423.3" width="10.3" height="59.7" fill="#eb958b" stroke="#e8432f" stroke-width="1"/>
<rect x="387.35" y="429.6" width="10.3" height="53.4" fill="#d3b994" stroke="#a67c4e" stroke-width="1"/>
<rect x="405.05" y="442.9" width="10.3" height="40.1" fill="#bea2d6" stroke="#8b4fae" stroke-width="1"/>
<rect x="422.65" y="451.7" width="10.3" height="31.3" fill="#f2c583" stroke="#f0a235" stroke-width="1"/>
<line x1="357.2" y1="478" x2="357.2" y2="470.5" stroke="#3561b3" stroke-width="1"/>
<line x1="353.45" y1="470.5" x2="360.95" y2="470.5" stroke="#3561b3" stroke-width="1"/>
<line x1="353.45" y1="478" x2="360.95" y2="478" stroke="#3561b3" stroke-width="1"/>
<line x1="374.8" y1="439.1" x2="374.8" y2="406.4" stroke="#e8432f" stroke-width="1"/>
<line x1="371.05" y1="406.4" x2="378.55" y2="406.4" stroke="#e8432f" stroke-width="1"/>
<line x1="371.05" y1="439.1" x2="378.55" y2="439.1" stroke="#e8432f" stroke-width="1"/>
<line x1="392.5" y1="446.1" x2="392.5" y2="411.1" stroke="#a67c4e" stroke-width="1"/>
<line x1="388.75" y1="411.1" x2="396.25" y2="411.1" stroke="#a67c4e" stroke-width="1"/>
<line x1="388.75" y1="446.1" x2="396.25" y2="446.1" stroke="#a67c4e" stroke-width="1"/>
<line x1="410.2" y1="452" x2="410.2" y2="432.3" stroke="#8b4fae" stroke-width="1"/>
<line x1="406.45" y1="432.3" x2="413.95" y2="432.3" stroke="#8b4fae" stroke-width="1"/>
<line x1="406.45" y1="452" x2="413.95" y2="452" stroke="#8b4fae" stroke-width="1"/>
<line x1="427.8" y1="466.7" x2="427.8" y2="434.9" stroke="#f0a235" stroke-width="1"/>
<line x1="424.05" y1="434.9" x2="431.55" y2="434.9" stroke="#f0a235" stroke-width="1"/>
<line x1="424.05" y1="466.7" x2="431.55" y2="466.7" stroke="#f0a235" stroke-width="1"/>
<circle cx="354.2" cy="472" r="1.9" fill="#3561b3"/>
<circle cx="359.2" cy="471" r="1.9" fill="#3561b3"/>
<circle cx="357.2" cy="474.5" r="1.9" fill="#3561b3"/>
<circle cx="354.2" cy="477" r="1.9" fill="#3561b3"/>
<circle cx="360.2" cy="477.5" r="1.9" fill="#3561b3"/>
<circle cx="357.2" cy="479.5" r="1.9" fill="#3561b3"/>
<circle cx="355.2" cy="480" r="1.9" fill="#3561b3"/>
<circle cx="360.2" cy="475" r="1.9" fill="#3561b3"/>
<circle cx="375.1" cy="396.7" r="1.9" fill="#e8432f"/>
<circle cx="371.3" cy="403.8" r="1.9" fill="#e8432f"/>
<circle cx="375.7" cy="403.8" r="1.9" fill="#e8432f"/>
<circle cx="371.1" cy="418.4" r="1.9" fill="#e8432f"/>
<circle cx="375.3" cy="421.5" r="1.9" fill="#e8432f"/>
<circle cx="371.1" cy="434.1" r="1.9" fill="#e8432f"/>
<circle cx="379.1" cy="432.5" r="1.9" fill="#e8432f"/>
<circle cx="375.1" cy="437.4" r="1.9" fill="#e8432f"/>
<circle cx="379.1" cy="436.3" r="1.9" fill="#e8432f"/>
<circle cx="375.1" cy="441.3" r="1.9" fill="#e8432f"/>
<circle cx="392.5" cy="400.5" r="1.9" fill="#a67c4e"/>
<circle cx="392.5" cy="405.5" r="1.9" fill="#a67c4e"/>
<circle cx="388.7" cy="418.4" r="1.9" fill="#a67c4e"/>
<circle cx="396.3" cy="418.4" r="1.9" fill="#a67c4e"/>
<circle cx="392.5" cy="425.9" r="1.9" fill="#a67c4e"/>
<circle cx="388.7" cy="439.1" r="1.9" fill="#a67c4e"/>
<circle cx="396.3" cy="439.1" r="1.9" fill="#a67c4e"/>
<circle cx="388.7" cy="443.5" r="1.9" fill="#a67c4e"/>
<circle cx="396.3" cy="443.5" r="1.9" fill="#a67c4e"/>
<circle cx="392.5" cy="452.1" r="1.9" fill="#a67c4e"/>
<circle cx="410.2" cy="424.8" r="1.9" fill="#8b4fae"/>
<circle cx="410.2" cy="432.3" r="1.9" fill="#8b4fae"/>
<circle cx="412.4" cy="436.9" r="1.9" fill="#8b4fae"/>
<circle cx="408.4" cy="439.1" r="1.9" fill="#8b4fae"/>
<circle cx="405.7" cy="443" r="1.9" fill="#8b4fae"/>
<circle cx="410.2" cy="443" r="1.9" fill="#8b4fae"/>
<circle cx="414.4" cy="443" r="1.9" fill="#8b4fae"/>
<circle cx="407.9" cy="456.2" r="1.9" fill="#8b4fae"/>
<circle cx="412.4" cy="457.3" r="1.9" fill="#8b4fae"/>
<circle cx="410.2" cy="461.7" r="1.9" fill="#8b4fae"/>
<circle cx="423.8" cy="423.1" r="1.9" fill="#f0a235"/>
<circle cx="431.8" cy="424.8" r="1.9" fill="#f0a235"/>
<circle cx="428" cy="441.9" r="1.9" fill="#f0a235"/>
<circle cx="423.8" cy="452.3" r="1.9" fill="#f0a235"/>
<circle cx="431.8" cy="454.5" r="1.9" fill="#f0a235"/>
<circle cx="423.8" cy="456.2" r="1.9" fill="#f0a235"/>
<circle cx="431.8" cy="458.4" r="1.9" fill="#f0a235"/>
<circle cx="423.8" cy="461.7" r="1.9" fill="#f0a235"/>
<circle cx="431.8" cy="463.9" r="1.9" fill="#f0a235"/>
<circle cx="428" cy="468.9" r="1.9" fill="#f0a235"/>
<polyline points="357.2,465.6 357.2,385.9 374.7,385.9 374.7,391.2" fill="none" stroke="#161616" stroke-width="1.2"/>
<text x="366.2" y="383.65" font-size="8.3" text-anchor="middle" textLength="33.4" lengthAdjust="spacingAndGlyphs">P&lt;0.0001</text>
<polyline points="374.7,370.2 374.7,365.1 392.7,365.1 392.7,395.2" fill="none" stroke="#161616" stroke-width="1.2"/>
<text x="384.3" y="363.35" font-size="8.3" text-anchor="middle" textLength="34.6" lengthAdjust="spacingAndGlyphs">P=0.8645</text>
<polyline points="374.7,355 374.7,349.9 410.3,349.9 410.3,413.7" fill="none" stroke="#161616" stroke-width="1.2"/>
<text x="392.9" y="348.15" font-size="8.3" text-anchor="middle" textLength="33.9" lengthAdjust="spacingAndGlyphs">P=0.0100</text>
<polyline points="374.7,342.2 374.7,336.4 427.8,336.4 427.8,418.1" fill="none" stroke="#161616" stroke-width="1.2"/>
<text x="401.4" y="334.65" font-size="8.3" text-anchor="middle" textLength="34.6" lengthAdjust="spacingAndGlyphs">P=0.0004</text>
<text transform="translate(320.9 435.1) rotate(-90)" font-size="10.8" text-anchor="middle" textLength="143.4" lengthAdjust="spacingAndGlyphs">Maximal respiration (pmol/min)</text>
<line x1="472.7" y1="389" x2="472.7" y2="483.6" stroke="#161616" stroke-width="1.2"/>
<line x1="468.7" y1="483" x2="472.7" y2="483" stroke="#161616" stroke-width="1.2"/>
<text x="469.5" y="485.93" font-size="10.8" text-anchor="end">0</text>
<line x1="468.7" y1="459.65" x2="472.7" y2="459.65" stroke="#161616" stroke-width="1.2"/>
<text x="469.5" y="462.58" font-size="10.8" text-anchor="end">50</text>
<line x1="468.7" y1="436.3" x2="472.7" y2="436.3" stroke="#161616" stroke-width="1.2"/>
<text x="469.5" y="439.23" font-size="10.8" text-anchor="end">100</text>
<line x1="468.7" y1="412.95" x2="472.7" y2="412.95" stroke="#161616" stroke-width="1.2"/>
<text x="469.5" y="415.88" font-size="10.8" text-anchor="end">150</text>
<line x1="468.7" y1="389.6" x2="472.7" y2="389.6" stroke="#161616" stroke-width="1.2"/>
<text x="469.5" y="392.53" font-size="10.8" text-anchor="end">200</text>
<line x1="472.1" y1="483" x2="566.6" y2="483" stroke="#161616" stroke-width="1.2"/>
<line x1="485.4" y1="483" x2="485.4" y2="487" stroke="#161616" stroke-width="1.2"/>
<line x1="502.9" y1="483" x2="502.9" y2="487" stroke="#161616" stroke-width="1.2"/>
<line x1="520.6" y1="483" x2="520.6" y2="487" stroke="#161616" stroke-width="1.2"/>
<line x1="538" y1="483" x2="538" y2="487" stroke="#161616" stroke-width="1.2"/>
<line x1="555.7" y1="483" x2="555.7" y2="487" stroke="#161616" stroke-width="1.2"/>
<rect x="480.25" y="481.2" width="10.3" height="1.8" fill="#8ea4d6" stroke="#3561b3" stroke-width="1"/>
<rect x="497.75" y="435.4" width="10.3" height="47.6" fill="#eb958b" stroke="#e8432f" stroke-width="1"/>
<rect x="515.45" y="442" width="10.3" height="41" fill="#d3b994" stroke="#a67c4e" stroke-width="1"/>
<rect x="532.85" y="455.3" width="10.3" height="27.7" fill="#bea2d6" stroke="#8b4fae" stroke-width="1"/>
<rect x="550.55" y="460.5" width="10.3" height="22.5" fill="#f2c583" stroke="#f0a235" stroke-width="1"/>
<line x1="485.4" y1="483" x2="485.4" y2="478" stroke="#3561b3" stroke-width="1"/>
<line x1="481.65" y1="478" x2="489.15" y2="478" stroke="#3561b3" stroke-width="1"/>
<line x1="481.65" y1="483" x2="489.15" y2="483" stroke="#3561b3" stroke-width="1"/>
<line x1="502.9" y1="450.8" x2="502.9" y2="418" stroke="#e8432f" stroke-width="1"/>
<line x1="499.15" y1="418" x2="506.65" y2="418" stroke="#e8432f" stroke-width="1"/>
<line x1="499.15" y1="450.8" x2="506.65" y2="450.8" stroke="#e8432f" stroke-width="1"/>
<line x1="520.6" y1="456.8" x2="520.6" y2="425" stroke="#a67c4e" stroke-width="1"/>
<line x1="516.85" y1="425" x2="524.35" y2="425" stroke="#a67c4e" stroke-width="1"/>
<line x1="516.85" y1="456.8" x2="524.35" y2="456.8" stroke="#a67c4e" stroke-width="1"/>
<line x1="538" y1="467.2" x2="538" y2="443.9" stroke="#8b4fae" stroke-width="1"/>
<line x1="534.25" y1="443.9" x2="541.75" y2="443.9" stroke="#8b4fae" stroke-width="1"/>
<line x1="534.25" y1="467.2" x2="541.75" y2="467.2" stroke="#8b4fae" stroke-width="1"/>
<line x1="555.7" y1="473" x2="555.7" y2="447.6" stroke="#f0a235" stroke-width="1"/>
<line x1="551.95" y1="447.6" x2="559.45" y2="447.6" stroke="#f0a235" stroke-width="1"/>
<line x1="551.95" y1="473" x2="559.45" y2="473" stroke="#f0a235" stroke-width="1"/>
<circle cx="482.4" cy="479.5" r="1.9" fill="#3561b3"/>
<circle cx="485.4" cy="478" r="1.9" fill="#3561b3"/>
<circle cx="488.4" cy="480" r="1.9" fill="#3561b3"/>
<circle cx="483.4" cy="482" r="1.9" fill="#3561b3"/>
<circle cx="487.4" cy="482" r="1.9" fill="#3561b3"/>
<circle cx="485.4" cy="481" r="1.9" fill="#3561b3"/>
<circle cx="502.9" cy="408.8" r="1.9" fill="#e8432f"/>
<circle cx="499.6" cy="415" r="1.9" fill="#e8432f"/>
<circle cx="505.3" cy="415" r="1.9" fill="#e8432f"/>
<circle cx="499.6" cy="432.5" r="1.9" fill="#e8432f"/>
<circle cx="505.3" cy="432.5" r="1.9" fill="#e8432f"/>
<circle cx="498.8" cy="446.2" r="1.9" fill="#e8432f"/>
<circle cx="502.9" cy="446.2" r="1.9" fill="#e8432f"/>
<circle cx="507" cy="446.2" r="1.9" fill="#e8432f"/>
<circle cx="502.9" cy="450.2" r="1.9" fill="#e8432f"/>
<circle cx="502.9" cy="454.1" r="1.9" fill="#e8432f"/>
<circle cx="520.6" cy="418.7" r="1.9" fill="#a67c4e"/>
<circle cx="524.5" cy="414.7" r="1.9" fill="#a67c4e"/>
<circle cx="518.3" cy="432.5" r="1.9" fill="#a67c4e"/>
<circle cx="522.8" cy="432.5" r="1.9" fill="#a67c4e"/>
<circle cx="520.6" cy="439" r="1.9" fill="#a67c4e"/>
<circle cx="516.6" cy="451.5" r="1.9" fill="#a67c4e"/>
<circle cx="520.6" cy="451.5" r="1.9" fill="#a67c4e"/>
<circle cx="524.5" cy="454.1" r="1.9" fill="#a67c4e"/>
<circle cx="520.6" cy="456.8" r="1.9" fill="#a67c4e"/>
<circle cx="520.6" cy="462" r="1.9" fill="#a67c4e"/>
<circle cx="538" cy="433.1" r="1.9" fill="#8b4fae"/>
<circle cx="534.3" cy="448.2" r="1.9" fill="#8b4fae"/>
<circle cx="538" cy="450.2" r="1.9" fill="#8b4fae"/>
<circle cx="542" cy="447.6" r="1.9" fill="#8b4fae"/>
<circle cx="534.3" cy="453.5" r="1.9" fill="#8b4fae"/>
<circle cx="538" cy="456.8" r="1.9" fill="#8b4fae"/>
<circle cx="538" cy="466.6" r="1.9" fill="#8b4fae"/>
<circle cx="534.3" cy="469.2" r="1.9" fill="#8b4fae"/>
<circle cx="542" cy="466.6" r="1.9" fill="#8b4fae"/>
<circle cx="555.1" cy="438.6" r="1.9" fill="#f0a235"/>
<circle cx="557.1" cy="437.4" r="1.9" fill="#f0a235"/>
<circle cx="555.7" cy="455.2" r="1.9" fill="#f0a235"/>
<circle cx="553" cy="462.7" r="1.9" fill="#f0a235"/>
<circle cx="558.5" cy="462.7" r="1.9" fill="#f0a235"/>
<circle cx="555.7" cy="466.6" r="1.9" fill="#f0a235"/>
<circle cx="553.5" cy="471.2" r="1.9" fill="#f0a235"/>
<circle cx="555.7" cy="473.8" r="1.9" fill="#f0a235"/>
<polyline points="485.4,474.2 485.4,397.1 502.9,397.1 502.9,402.9" fill="none" stroke="#161616" stroke-width="1.2"/>
<text x="493.8" y="395.35" font-size="8.3" text-anchor="middle" textLength="34.3" lengthAdjust="spacingAndGlyphs">P&lt;0.0001</text>
<polyline points="502.9,382.6 502.9,376.5 520.6,376.5 520.6,408.8" fill="none" stroke="#161616" stroke-width="1.2"/>
<text x="512" y="374.85" font-size="8.3" text-anchor="middle" textLength="34.6" lengthAdjust="spacingAndGlyphs">P=0.7808</text>
<polyline points="502.9,364.8 502.9,359.2 537.9,359.2 537.9,416.2" fill="none" stroke="#161616" stroke-width="1.2"/>
<text x="520.9" y="357.55" font-size="8.3" text-anchor="middle" textLength="34.6" lengthAdjust="spacingAndGlyphs">P=0.0090</text>
<polyline points="502.9,344.5 502.9,338.2 555.7,338.2 555.7,420.4" fill="none" stroke="#161616" stroke-width="1.2"/>
<text x="529.5" y="336.95" font-size="8.3" text-anchor="middle" textLength="34.6" lengthAdjust="spacingAndGlyphs">P=0.0006</text>
<text transform="translate(448.4 436.45) rotate(-90)" font-size="11.3" text-anchor="middle" textLength="75.9" lengthAdjust="spacingAndGlyphs">SRC (pmol/min)</text>
<circle cx="563.5" cy="351.8" r="1.8" fill="#3561b3"/>
<text x="570.2" y="355.2" font-size="10.9" textLength="66.3" lengthAdjust="spacingAndGlyphs"><tspan font-style="italic">Ei24</tspan><tspan font-size="6.54" dy="-3.92">fl/fl</tspan><tspan dy="3.92"> Vehicle</tspan></text>
<circle cx="563.5" cy="370.22" r="1.8" fill="#e8432f"/>
<text x="570.2" y="373.62" font-size="10.9" textLength="97.2" lengthAdjust="spacingAndGlyphs"><tspan font-style="italic">Lyz2</tspan><tspan font-size="6.54" dy="-3.92">cre</tspan><tspan dy="3.92" font-style="italic">Ei24</tspan><tspan font-size="6.54" dy="-3.92">fl/fl</tspan><tspan dy="3.92"> Vehicle</tspan></text>
<circle cx="563.5" cy="388.64" r="1.8" fill="#a67c4e"/>
<text x="570.2" y="392.04" font-size="10.9" textLength="113.8" lengthAdjust="spacingAndGlyphs"><tspan font-style="italic">Lyz2</tspan><tspan font-size="6.54" dy="-3.92">cre</tspan><tspan dy="3.92" font-style="italic">Ei24</tspan><tspan font-size="6.54" dy="-3.92">fl/fl</tspan><tspan dy="3.92"> + Etomoxir</tspan></text>
<circle cx="563.5" cy="407.06" r="1.8" fill="#8b4fae"/>
<text x="570.2" y="410.46" font-size="10.9" textLength="110.4" lengthAdjust="spacingAndGlyphs"><tspan font-style="italic">Lyz2</tspan><tspan font-size="6.54" dy="-3.92">cre</tspan><tspan dy="3.92" font-style="italic">Ei24</tspan><tspan font-size="6.54" dy="-3.92">fl/fl</tspan><tspan dy="3.92"> + UK5099</tspan></text>
<circle cx="563.5" cy="425.48" r="1.8" fill="#f0a235"/>
<text x="570.2" y="428.88" font-size="10.9" textLength="106.6" lengthAdjust="spacingAndGlyphs"><tspan font-style="italic">Lyz2</tspan><tspan font-size="6.54" dy="-3.92">cre</tspan><tspan dy="3.92" font-style="italic">Ei24</tspan><tspan font-size="6.54" dy="-3.92">fl/fl</tspan><tspan dy="3.92"> + BPTES</tspan></text>
<line x1="45.2" y1="556.28" x2="45.2" y2="660" stroke="#161616" stroke-width="1.2"/>
<line x1="41.2" y1="659.4" x2="45.2" y2="659.4" stroke="#161616" stroke-width="1.2"/>
<text x="40" y="662.33" font-size="10.8" text-anchor="end">0</text>
<line x1="41.2" y1="633.77" x2="45.2" y2="633.77" stroke="#161616" stroke-width="1.2"/>
<text x="40" y="636.7" font-size="10.8" text-anchor="end">500</text>
<line x1="41.2" y1="608.14" x2="45.2" y2="608.14" stroke="#161616" stroke-width="1.2"/>
<text x="40" y="611.07" font-size="10.8" text-anchor="end">1000</text>
<line x1="41.2" y1="582.51" x2="45.2" y2="582.51" stroke="#161616" stroke-width="1.2"/>
<text x="40" y="585.44" font-size="10.8" text-anchor="end">1500</text>
<line x1="41.2" y1="556.88" x2="45.2" y2="556.88" stroke="#161616" stroke-width="1.2"/>
<text x="40" y="559.81" font-size="10.8" text-anchor="end">2000</text>
<line x1="44.6" y1="659.4" x2="113.7" y2="659.4" stroke="#161616" stroke-width="1.2"/>
<line x1="59.3" y1="659.4" x2="59.3" y2="663.4" stroke="#161616" stroke-width="1.2"/>
<line x1="80" y1="659.4" x2="80" y2="663.4" stroke="#161616" stroke-width="1.2"/>
<line x1="100.4" y1="659.4" x2="100.4" y2="663.4" stroke="#161616" stroke-width="1.2"/>
<rect x="53.3" y="653.7" width="12" height="5.7" fill="#bd94cc" stroke="#8e3aa2" stroke-width="1"/>
<rect x="74" y="619.9" width="12" height="39.5" fill="#7f82c9" stroke="#262f93" stroke-width="1"/>
<rect x="94.4" y="648.6" width="12" height="10.8" fill="#89c29f" stroke="#2a7f48" stroke-width="1"/>
<line x1="59.3" y1="656.1" x2="59.3" y2="650.3" stroke="#8e3aa2" stroke-width="1"/>
<line x1="55.3" y1="650.3" x2="63.3" y2="650.3" stroke="#8e3aa2" stroke-width="1"/>
<line x1="55.3" y1="656.1" x2="63.3" y2="656.1" stroke="#8e3aa2" stroke-width="1"/>
<line x1="80" y1="633.3" x2="80" y2="604.7" stroke="#262f93" stroke-width="1"/>
<line x1="76" y1="604.7" x2="84" y2="604.7" stroke="#262f93" stroke-width="1"/>
<line x1="76" y1="633.3" x2="84" y2="633.3" stroke="#262f93" stroke-width="1"/>
<line x1="100.4" y1="653.1" x2="100.4" y2="643.1" stroke="#2a7f48" stroke-width="1"/>
<line x1="96.4" y1="643.1" x2="104.4" y2="643.1" stroke="#2a7f48" stroke-width="1"/>
<line x1="96.4" y1="653.1" x2="104.4" y2="653.1" stroke="#2a7f48" stroke-width="1"/>
<circle cx="57.3" cy="646.2" r="1.6" fill="#8e3aa2"/>
<circle cx="61.1" cy="643.3" r="1.6" fill="#8e3aa2"/>
<circle cx="55.3" cy="654.5" r="1.6" fill="#8e3aa2"/>
<circle cx="59.3" cy="656" r="1.6" fill="#8e3aa2"/>
<circle cx="62.3" cy="655" r="1.6" fill="#8e3aa2"/>
<circle cx="57.3" cy="658" r="1.6" fill="#8e3aa2"/>
<circle cx="61.3" cy="657.5" r="1.6" fill="#8e3aa2"/>
<circle cx="80" cy="576.4" r="1.6" fill="#262f93"/>
<circle cx="85.3" cy="573.6" r="1.6" fill="#262f93"/>
<circle cx="80" cy="628.6" r="1.6" fill="#262f93"/>
<circle cx="74.6" cy="645.6" r="1.6" fill="#262f93"/>
<circle cx="80" cy="644.6" r="1.6" fill="#262f93"/>
<circle cx="85.3" cy="645.6" r="1.6" fill="#262f93"/>
<circle cx="100.4" cy="623" r="1.6" fill="#2a7f48"/>
<circle cx="100.4" cy="631.8" r="1.6" fill="#2a7f48"/>
<circle cx="96.4" cy="653" r="1.6" fill="#2a7f48"/>
<circle cx="100.4" cy="649" r="1.6" fill="#2a7f48"/>
<circle cx="103.9" cy="654" r="1.6" fill="#2a7f48"/>
<circle cx="100.4" cy="657" r="1.6" fill="#2a7f48"/>
<circle cx="97.4" cy="658" r="1.6" fill="#2a7f48"/>
<polyline points="59.3,639 59.3,544 80,544 80,550.4" fill="none" stroke="#161616" stroke-width="1.2"/>
<text x="68.9" y="540.95" font-size="8.3" text-anchor="middle" textLength="35" lengthAdjust="spacingAndGlyphs">P=0.0306</text>
<polyline points="80,568.3 80,562.1 100.4,562.1 100.4,618.4" fill="none" stroke="#161616" stroke-width="1.2"/>
<text x="91.2" y="559.35" font-size="8.3" text-anchor="middle" textLength="34.5" lengthAdjust="spacingAndGlyphs">P=0.0518</text>
<text x="70.7" y="530.5" font-size="10.4" textLength="17.9" lengthAdjust="spacingAndGlyphs">IL-6</text>
<text transform="translate(11 606.5) rotate(-90)" font-size="10.8" text-anchor="middle" textLength="29.2" lengthAdjust="spacingAndGlyphs">pg/mL</text>
<circle cx="109.5" cy="567.3" r="1.7" fill="#8e3aa2"/>
<text x="115.4" y="570.3" font-size="10.9">Vehicle</text>
<circle cx="109.5" cy="584.15" r="1.7" fill="#262f93"/>
<text x="115.4" y="587.15" font-size="10.9">LPS</text>
<circle cx="109.5" cy="601" r="1.7" fill="#2a7f48"/>
<text x="115.4" y="604" font-size="10.9">LPS+2-DG</text>
<line x1="213.9" y1="556.58" x2="213.9" y2="660.1" stroke="#161616" stroke-width="1.2"/>
<line x1="209.9" y1="659.5" x2="213.9" y2="659.5" stroke="#161616" stroke-width="1.2"/>
<text x="208" y="662.43" font-size="10.8" text-anchor="end">0</text>
<line x1="209.9" y1="633.92" x2="213.9" y2="633.92" stroke="#161616" stroke-width="1.2"/>
<text x="208" y="636.85" font-size="10.8" text-anchor="end">200</text>
<line x1="209.9" y1="608.34" x2="213.9" y2="608.34" stroke="#161616" stroke-width="1.2"/>
<text x="208" y="611.27" font-size="10.8" text-anchor="end">400</text>
<line x1="209.9" y1="582.76" x2="213.9" y2="582.76" stroke="#161616" stroke-width="1.2"/>
<text x="208" y="585.69" font-size="10.8" text-anchor="end">600</text>
<line x1="209.9" y1="557.18" x2="213.9" y2="557.18" stroke="#161616" stroke-width="1.2"/>
<text x="208" y="560.11" font-size="10.8" text-anchor="end">800</text>
<line x1="213.3" y1="659.5" x2="282.2" y2="659.5" stroke="#161616" stroke-width="1.2"/>
<line x1="228.3" y1="659.5" x2="228.3" y2="663.5" stroke="#161616" stroke-width="1.2"/>
<line x1="248.6" y1="659.5" x2="248.6" y2="663.5" stroke="#161616" stroke-width="1.2"/>
<line x1="269" y1="659.5" x2="269" y2="663.5" stroke="#161616" stroke-width="1.2"/>
<rect x="222.3" y="654.7" width="12" height="4.8" fill="#bd94cc" stroke="#8e3aa2" stroke-width="1"/>
<rect x="242.6" y="627.7" width="12" height="31.8" fill="#7f82c9" stroke="#262f93" stroke-width="1"/>
<rect x="263" y="651.5" width="12" height="8" fill="#b6a89f" stroke="#6b5343" stroke-width="1"/>
<line x1="228.3" y1="655.9" x2="228.3" y2="652.5" stroke="#8e3aa2" stroke-width="1"/>
<line x1="224.3" y1="652.5" x2="232.3" y2="652.5" stroke="#8e3aa2" stroke-width="1"/>
<line x1="224.3" y1="655.9" x2="232.3" y2="655.9" stroke="#8e3aa2" stroke-width="1"/>
<line x1="248.6" y1="637.7" x2="248.6" y2="615.4" stroke="#262f93" stroke-width="1"/>
<line x1="244.6" y1="615.4" x2="252.6" y2="615.4" stroke="#262f93" stroke-width="1"/>
<line x1="244.6" y1="637.7" x2="252.6" y2="637.7" stroke="#262f93" stroke-width="1"/>
<line x1="269" y1="654" x2="269" y2="648" stroke="#6b5343" stroke-width="1"/>
<line x1="265" y1="648" x2="273" y2="648" stroke="#6b5343" stroke-width="1"/>
<line x1="265" y1="654" x2="273" y2="654" stroke="#6b5343" stroke-width="1"/>
<circle cx="221.7" cy="654.5" r="1.6" fill="#8e3aa2"/>
<circle cx="224.5" cy="656.5" r="1.6" fill="#8e3aa2"/>
<circle cx="228.3" cy="653.8" r="1.6" fill="#8e3aa2"/>
<circle cx="232" cy="655" r="1.6" fill="#8e3aa2"/>
<circle cx="234.5" cy="656.8" r="1.6" fill="#8e3aa2"/>
<circle cx="226" cy="657.5" r="1.6" fill="#8e3aa2"/>
<circle cx="230" cy="657.5" r="1.6" fill="#8e3aa2"/>
<circle cx="248.6" cy="581.7" r="1.6" fill="#262f93"/>
<circle cx="245.4" cy="620.1" r="1.6" fill="#262f93"/>
<circle cx="251.7" cy="620.1" r="1.6" fill="#262f93"/>
<circle cx="248.6" cy="629.2" r="1.6" fill="#262f93"/>
<circle cx="245.4" cy="655.9" r="1.6" fill="#262f93"/>
<circle cx="251.7" cy="654.2" r="1.6" fill="#262f93"/>
<circle cx="269" cy="632.4" r="1.6" fill="#6b5343"/>
<circle cx="269" cy="646.8" r="1.6" fill="#6b5343"/>
<circle cx="263.5" cy="651.4" r="1.6" fill="#6b5343"/>
<circle cx="274.5" cy="651.7" r="1.6" fill="#6b5343"/>
<circle cx="269" cy="653.1" r="1.6" fill="#6b5343"/>
<circle cx="263.5" cy="657.6" r="1.6" fill="#6b5343"/>
<circle cx="274.5" cy="657.6" r="1.6" fill="#6b5343"/>
<circle cx="269" cy="657.1" r="1.6" fill="#6b5343"/>
<polyline points="228.3,654 228.3,572.5 248.6,572.5 248.6,578.6" fill="none" stroke="#161616" stroke-width="1.2"/>
<text x="238.1" y="569.65" font-size="8.3" text-anchor="middle" textLength="34" lengthAdjust="spacingAndGlyphs">P=0.0080</text>
<polyline points="248.6,557.5 248.6,551.5 269,551.5 269,632.4" fill="none" stroke="#161616" stroke-width="1.2"/>
<text x="258.8" y="548.65" font-size="8.3" text-anchor="middle" textLength="33.6" lengthAdjust="spacingAndGlyphs">P=0.0238</text>
<text x="240.1" y="530.5" font-size="10.4" textLength="17.6" lengthAdjust="spacingAndGlyphs">IL-6</text>
<text transform="translate(185 606.5) rotate(-90)" font-size="10.8" text-anchor="middle" textLength="29.2" lengthAdjust="spacingAndGlyphs">pg/mL</text>
<circle cx="283" cy="566.7" r="1.6" fill="#8e3aa2"/>
<text x="288.7" y="569.7" font-size="10.9">Vehicle</text>
<circle cx="283" cy="583.4" r="1.6" fill="#262f93"/>
<text x="288.7" y="586.4" font-size="10.9">LPS</text>
<circle cx="283" cy="600.1" r="1.6" fill="#6b5343"/>
<text x="288.7" y="603.1" font-size="10.9">LPS+Oligomycin</text>
<line x1="408.4" y1="551.1" x2="408.4" y2="660.9" stroke="#161616" stroke-width="1.2"/>
<line x1="404.4" y1="660.3" x2="408.4" y2="660.3" stroke="#161616" stroke-width="1.2"/>
<text x="403" y="663.23" font-size="10.8" text-anchor="end">0</text>
<line x1="404.4" y1="638.58" x2="408.4" y2="638.58" stroke="#161616" stroke-width="1.2"/>
<text x="403" y="641.51" font-size="10.8" text-anchor="end">2</text>
<line x1="404.4" y1="616.86" x2="408.4" y2="616.86" stroke="#161616" stroke-width="1.2"/>
<text x="403" y="619.79" font-size="10.8" text-anchor="end">4</text>
<line x1="404.4" y1="595.14" x2="408.4" y2="595.14" stroke="#161616" stroke-width="1.2"/>
<text x="403" y="598.07" font-size="10.8" text-anchor="end">6</text>
<line x1="404.4" y1="573.42" x2="408.4" y2="573.42" stroke="#161616" stroke-width="1.2"/>
<text x="403" y="576.35" font-size="10.8" text-anchor="end">8</text>
<line x1="404.4" y1="551.7" x2="408.4" y2="551.7" stroke="#161616" stroke-width="1.2"/>
<text x="403" y="554.63" font-size="10.8" text-anchor="end">10</text>
<line x1="407.8" y1="660.3" x2="481" y2="660.3" stroke="#161616" stroke-width="1.2"/>
<line x1="423.4" y1="660.3" x2="423.4" y2="664.3" stroke="#161616" stroke-width="1.2"/>
<line x1="445" y1="660.3" x2="445" y2="664.3" stroke="#161616" stroke-width="1.2"/>
<line x1="466.5" y1="660.3" x2="466.5" y2="664.3" stroke="#161616" stroke-width="1.2"/>
<rect x="416.7" y="586.7" width="13.4" height="73.6" fill="#bd94cc" stroke="#8e3aa2" stroke-width="1"/>
<rect x="438.3" y="580.5" width="13.4" height="79.8" fill="#89c29f" stroke="#2a7f48" stroke-width="1"/>
<rect x="459.8" y="631.6" width="13.4" height="28.7" fill="#b6a89f" stroke="#6b5343" stroke-width="1"/>
<line x1="423.4" y1="592.3" x2="423.4" y2="578.7" stroke="#8e3aa2" stroke-width="1"/>
<line x1="418.4" y1="578.7" x2="428.4" y2="578.7" stroke="#8e3aa2" stroke-width="1"/>
<line x1="418.4" y1="592.3" x2="428.4" y2="592.3" stroke="#8e3aa2" stroke-width="1"/>
<line x1="445" y1="587.5" x2="445" y2="571" stroke="#2a7f48" stroke-width="1"/>
<line x1="440" y1="571" x2="450" y2="571" stroke="#2a7f48" stroke-width="1"/>
<line x1="440" y1="587.5" x2="450" y2="587.5" stroke="#2a7f48" stroke-width="1"/>
<line x1="466.5" y1="634.6" x2="466.5" y2="627.7" stroke="#6b5343" stroke-width="1"/>
<line x1="461.5" y1="627.7" x2="471.5" y2="627.7" stroke="#6b5343" stroke-width="1"/>
<line x1="461.5" y1="634.6" x2="471.5" y2="634.6" stroke="#6b5343" stroke-width="1"/>
<circle cx="423.4" cy="572.4" r="1.6" fill="#8e3aa2"/>
<circle cx="423.4" cy="589.2" r="1.6" fill="#8e3aa2"/>
<circle cx="423.4" cy="594.3" r="1.6" fill="#8e3aa2"/>
<circle cx="445" cy="562.7" r="1.6" fill="#2a7f48"/>
<circle cx="445" cy="585.4" r="1.6" fill="#2a7f48"/>
<circle cx="445" cy="590.2" r="1.6" fill="#2a7f48"/>
<circle cx="466.5" cy="625" r="1.6" fill="#6b5343"/>
<circle cx="466.5" cy="631.1" r="1.6" fill="#6b5343"/>
<circle cx="466.5" cy="635.7" r="1.6" fill="#6b5343"/>
<polyline points="423.4,565.7 423.4,549.4 445,549.4 445,556.1" fill="none" stroke="#161616" stroke-width="1.2"/>
<text x="434.2" y="548.25" font-size="8.3" text-anchor="middle" textLength="35" lengthAdjust="spacingAndGlyphs">P=0.7471</text>
<polyline points="423.4,539.5 423.4,532.7 466.5,532.7 466.5,612.7" fill="none" stroke="#161616" stroke-width="1.2"/>
<text x="445" y="530.45" font-size="8.3" text-anchor="middle" textLength="35.6" lengthAdjust="spacingAndGlyphs">P=0.0045</text>
<text transform="translate(390.6 606.75) rotate(-90)" font-size="10.8" text-anchor="middle" textLength="118.5" lengthAdjust="spacingAndGlyphs">% of pHrodo Green<tspan font-size="6.3" dy="-4">+</tspan><tspan dy="4"> AMs</tspan></text>
<circle cx="487.7" cy="567.2" r="1.6" fill="#8e3aa2"/>
<text x="492.9" y="570.2" font-size="10.9">Vehicle</text>
<circle cx="487.7" cy="584" r="1.6" fill="#2a7f48"/>
<text x="492.9" y="587" font-size="10.9">2-DG</text>
<circle cx="487.7" cy="600.8" r="1.6" fill="#6b5343"/>
<text x="492.9" y="603.8" font-size="10.9">Oligomycin</text>
<line x1="45.9" y1="705.4" x2="45.9" y2="814.6" stroke="#161616" stroke-width="1.2"/>
<line x1="41.9" y1="814" x2="45.9" y2="814" stroke="#161616" stroke-width="1.2"/>
<text x="41.8" y="816.93" font-size="10.8" text-anchor="end">0</text>
<line x1="41.9" y1="787" x2="45.9" y2="787" stroke="#161616" stroke-width="1.2"/>
<text x="41.8" y="789.93" font-size="10.8" text-anchor="end">500</text>
<line x1="41.9" y1="760" x2="45.9" y2="760" stroke="#161616" stroke-width="1.2"/>
<text x="41.8" y="762.93" font-size="10.8" text-anchor="end">1000</text>
<line x1="41.9" y1="733" x2="45.9" y2="733" stroke="#161616" stroke-width="1.2"/>
<text x="41.8" y="735.93" font-size="10.8" text-anchor="end">1500</text>
<line x1="41.9" y1="706" x2="45.9" y2="706" stroke="#161616" stroke-width="1.2"/>
<text x="41.8" y="708.93" font-size="10.8" text-anchor="end">2000</text>
<line x1="45.3" y1="814" x2="117.9" y2="814" stroke="#161616" stroke-width="1.2"/>
<line x1="66.8" y1="814" x2="66.8" y2="818" stroke="#161616" stroke-width="1.2"/>
<line x1="97.4" y1="814" x2="97.4" y2="818" stroke="#161616" stroke-width="1.2"/>
<rect x="57.6" y="754.1" width="18.4" height="59.9" fill="#8ea4d6" stroke="#3561b3" stroke-width="1"/>
<rect x="88.2" y="740.7" width="18.4" height="73.3" fill="#eb958b" stroke="#e8432f" stroke-width="1"/>
<line x1="66.8" y1="759.4" x2="66.8" y2="746.9" stroke="#3561b3" stroke-width="1"/>
<line x1="61.8" y1="746.9" x2="71.8" y2="746.9" stroke="#3561b3" stroke-width="1"/>
<line x1="61.8" y1="759.4" x2="71.8" y2="759.4" stroke="#3561b3" stroke-width="1"/>
<line x1="97.4" y1="749.4" x2="97.4" y2="731.6" stroke="#e8432f" stroke-width="1"/>
<line x1="92.4" y1="731.6" x2="102.4" y2="731.6" stroke="#e8432f" stroke-width="1"/>
<line x1="92.4" y1="749.4" x2="102.4" y2="749.4" stroke="#e8432f" stroke-width="1"/>
<circle cx="60.5" cy="751.4" r="1.6" fill="#3561b3"/>
<circle cx="66.8" cy="747.7" r="1.6" fill="#3561b3"/>
<circle cx="73" cy="747" r="1.6" fill="#3561b3"/>
<circle cx="66.8" cy="754.4" r="1.6" fill="#3561b3"/>
<circle cx="72.8" cy="752" r="1.6" fill="#3561b3"/>
<circle cx="62.8" cy="757" r="1.6" fill="#3561b3"/>
<circle cx="66.8" cy="762" r="1.6" fill="#3561b3"/>
<circle cx="97.4" cy="727.5" r="1.6" fill="#e8432f"/>
<circle cx="92.4" cy="735" r="1.6" fill="#e8432f"/>
<circle cx="102.4" cy="733.5" r="1.6" fill="#e8432f"/>
<circle cx="93.4" cy="744" r="1.6" fill="#e8432f"/>
<circle cx="101.4" cy="743" r="1.6" fill="#e8432f"/>
<circle cx="97.4" cy="745" r="1.6" fill="#e8432f"/>
<circle cx="95.4" cy="749" r="1.6" fill="#e8432f"/>
<polyline points="66.8,740.2 66.8,715.9 97.4,715.9 97.4,722.1" fill="none" stroke="#161616" stroke-width="1.2"/>
<text x="82.8" y="710.15" font-size="8.3" text-anchor="middle" textLength="34" lengthAdjust="spacingAndGlyphs">P=0.0084</text>
<text transform="translate(15.8 760.35) rotate(-90)" font-size="10.8" text-anchor="middle" textLength="74.7" lengthAdjust="spacingAndGlyphs">MFI of MitoSOX</text>
<circle cx="23.6" cy="689.9" r="1.6" fill="#3561b3"/>
<text x="28.5" y="693.8" font-size="10.9" textLength="30" lengthAdjust="spacingAndGlyphs"><tspan font-style="italic">Ei24</tspan><tspan font-size="6.54" dy="-3.92">fl/fl</tspan></text>
<circle cx="64" cy="689.9" r="1.6" fill="#e8432f"/>
<text x="68.3" y="693.8" font-size="10.9" textLength="61" lengthAdjust="spacingAndGlyphs"><tspan font-style="italic">Lyz2</tspan><tspan font-size="6.54" dy="-3.92">cre</tspan><tspan dy="3.92" font-style="italic">Ei24</tspan><tspan font-size="6.54" dy="-3.92">fl/fl</tspan></text>
<line x1="208.6" y1="709.75" x2="208.6" y2="814.3" stroke="#161616" stroke-width="1.2"/>
<line x1="204.6" y1="813.7" x2="208.6" y2="813.7" stroke="#161616" stroke-width="1.2"/>
<text x="203" y="816.63" font-size="10.8" text-anchor="end">0</text>
<line x1="204.6" y1="779.25" x2="208.6" y2="779.25" stroke="#161616" stroke-width="1.2"/>
<text x="203" y="782.18" font-size="10.8" text-anchor="end">500</text>
<line x1="204.6" y1="744.8" x2="208.6" y2="744.8" stroke="#161616" stroke-width="1.2"/>
<text x="203" y="747.73" font-size="10.8" text-anchor="end">1000</text>
<line x1="204.6" y1="710.35" x2="208.6" y2="710.35" stroke="#161616" stroke-width="1.2"/>
<text x="203" y="713.28" font-size="10.8" text-anchor="end">1500</text>
<line x1="208" y1="813.7" x2="307.2" y2="813.7" stroke="#161616" stroke-width="1.2"/>
<line x1="224" y1="813.7" x2="224" y2="817.7" stroke="#161616" stroke-width="1.2"/>
<line x1="248.5" y1="813.7" x2="248.5" y2="817.7" stroke="#161616" stroke-width="1.2"/>
<line x1="272.3" y1="813.7" x2="272.3" y2="817.7" stroke="#161616" stroke-width="1.2"/>
<line x1="296.5" y1="813.7" x2="296.5" y2="817.7" stroke="#161616" stroke-width="1.2"/>
<rect x="216.6" y="747.6" width="14.8" height="66.1" fill="#8ea4d6" stroke="#3561b3" stroke-width="1"/>
<rect x="241.1" y="758.1" width="14.8" height="55.6" fill="#89c29f" stroke="#2a7f48" stroke-width="1"/>
<rect x="264.9" y="754.6" width="14.8" height="59.1" fill="#b6a89f" stroke="#6b5343" stroke-width="1"/>
<rect x="289.1" y="754.6" width="14.8" height="59.1" fill="#c790b8" stroke="#9c2f7c" stroke-width="1"/>
<line x1="224" y1="749" x2="224" y2="745" stroke="#3561b3" stroke-width="1"/>
<line x1="219.5" y1="745" x2="228.5" y2="745" stroke="#3561b3" stroke-width="1"/>
<line x1="219.5" y1="749" x2="228.5" y2="749" stroke="#3561b3" stroke-width="1"/>
<line x1="248.5" y1="761" x2="248.5" y2="754" stroke="#2a7f48" stroke-width="1"/>
<line x1="244" y1="754" x2="253" y2="754" stroke="#2a7f48" stroke-width="1"/>
<line x1="244" y1="761" x2="253" y2="761" stroke="#2a7f48" stroke-width="1"/>
<line x1="272.3" y1="762" x2="272.3" y2="746.5" stroke="#6b5343" stroke-width="1"/>
<line x1="267.8" y1="746.5" x2="276.8" y2="746.5" stroke="#6b5343" stroke-width="1"/>
<line x1="267.8" y1="762" x2="276.8" y2="762" stroke="#6b5343" stroke-width="1"/>
<line x1="296.5" y1="760" x2="296.5" y2="748" stroke="#9c2f7c" stroke-width="1"/>
<line x1="292" y1="748" x2="301" y2="748" stroke="#9c2f7c" stroke-width="1"/>
<line x1="292" y1="760" x2="301" y2="760" stroke="#9c2f7c" stroke-width="1"/>
<circle cx="219" cy="746" r="2" fill="#3561b3"/>
<circle cx="224" cy="743.5" r="2" fill="#3561b3"/>
<circle cx="229" cy="746" r="2" fill="#3561b3"/>
<circle cx="221" cy="748" r="2" fill="#3561b3"/>
<circle cx="227" cy="748.5" r="2" fill="#3561b3"/>
<circle cx="224" cy="745" r="2" fill="#3561b3"/>
<circle cx="243.5" cy="752.5" r="2" fill="#2a7f48"/>
<circle cx="248.5" cy="751" r="2" fill="#2a7f48"/>
<circle cx="253.5" cy="752" r="2" fill="#2a7f48"/>
<circle cx="243.5" cy="762" r="2" fill="#2a7f48"/>
<circle cx="248.5" cy="762.5" r="2" fill="#2a7f48"/>
<circle cx="253.5" cy="762" r="2" fill="#2a7f48"/>
<circle cx="272.3" cy="743.5" r="2" fill="#6b5343"/>
<circle cx="267.3" cy="753" r="2" fill="#6b5343"/>
<circle cx="270.3" cy="756" r="2" fill="#6b5343"/>
<circle cx="275.3" cy="755" r="2" fill="#6b5343"/>
<circle cx="278.3" cy="752" r="2" fill="#6b5343"/>
<circle cx="272.3" cy="759" r="2" fill="#6b5343"/>
<circle cx="293.5" cy="749" r="2" fill="#9c2f7c"/>
<circle cx="299.5" cy="749.5" r="2" fill="#9c2f7c"/>
<circle cx="290.5" cy="755" r="2" fill="#9c2f7c"/>
<circle cx="302.5" cy="755.5" r="2" fill="#9c2f7c"/>
<circle cx="296.5" cy="757" r="2" fill="#9c2f7c"/>
<circle cx="293.5" cy="760" r="2" fill="#9c2f7c"/>
<circle cx="299.5" cy="760" r="2" fill="#9c2f7c"/>
<polyline points="224,734.8 224,729.6 248.5,729.6 248.5,748.8" fill="none" stroke="#161616" stroke-width="1.2"/>
<text x="236.7" y="724.85" font-size="8.3" text-anchor="middle" textLength="34.3" lengthAdjust="spacingAndGlyphs">P=0.0020</text>
<polyline points="224,711.3 224,706.8 272.3,706.8 272.3,738.3" fill="none" stroke="#161616" stroke-width="1.2"/>
<text x="248.5" y="701.65" font-size="8.3" text-anchor="middle" textLength="33.3" lengthAdjust="spacingAndGlyphs">P=0.0237</text>
<polyline points="224,690.3 224,684 296.5,684 296.5,741.8" fill="none" stroke="#161616" stroke-width="1.2"/>
<text x="260.3" y="678.95" font-size="8.3" text-anchor="middle" textLength="36.1" lengthAdjust="spacingAndGlyphs">P=0.0454</text>
<text transform="translate(175.1 762.5) rotate(-90)" font-size="10.8" text-anchor="middle" textLength="74.8" lengthAdjust="spacingAndGlyphs">MFI of MitoSOX</text>
<circle cx="312.4" cy="704" r="2" fill="#3561b3"/>
<text x="318.4" y="707" font-size="10.9">Vehicle</text>
<circle cx="312.4" cy="720.35" r="2" fill="#2a7f48"/>
<text x="318.4" y="723.35" font-size="10.9">2-DG</text>
<circle cx="312.4" cy="736.7" r="2" fill="#6b5343"/>
<text x="318.4" y="739.7" font-size="10.9">Oligomycin</text>
<circle cx="312.4" cy="753.05" r="2" fill="#9c2f7c"/>
<text x="318.4" y="756.05" font-size="10.9">mitoTEMPO</text>
<line x1="409.5" y1="711.4" x2="409.5" y2="815" stroke="#161616" stroke-width="1.2"/>
<line x1="405.5" y1="814.4" x2="409.5" y2="814.4" stroke="#161616" stroke-width="1.2"/>
<text x="405.5" y="817.33" font-size="10.8" text-anchor="end">0</text>
<line x1="405.5" y1="788.8" x2="409.5" y2="788.8" stroke="#161616" stroke-width="1.2"/>
<text x="405.5" y="791.73" font-size="10.8" text-anchor="end">5</text>
<line x1="405.5" y1="763.2" x2="409.5" y2="763.2" stroke="#161616" stroke-width="1.2"/>
<text x="405.5" y="766.13" font-size="10.8" text-anchor="end">10</text>
<line x1="405.5" y1="737.6" x2="409.5" y2="737.6" stroke="#161616" stroke-width="1.2"/>
<text x="405.5" y="740.53" font-size="10.8" text-anchor="end">15</text>
<line x1="405.5" y1="712" x2="409.5" y2="712" stroke="#161616" stroke-width="1.2"/>
<text x="405.5" y="714.93" font-size="10.8" text-anchor="end">20</text>
<line x1="408.9" y1="814.4" x2="511.4" y2="814.4" stroke="#161616" stroke-width="1.2"/>
<line x1="421.3" y1="814.4" x2="421.3" y2="818.4" stroke="#161616" stroke-width="1.2"/>
<line x1="440.6" y1="814.4" x2="440.6" y2="818.4" stroke="#161616" stroke-width="1.2"/>
<line x1="459.9" y1="814.4" x2="459.9" y2="818.4" stroke="#161616" stroke-width="1.2"/>
<line x1="479.1" y1="814.4" x2="479.1" y2="818.4" stroke="#161616" stroke-width="1.2"/>
<line x1="498.4" y1="814.4" x2="498.4" y2="818.4" stroke="#161616" stroke-width="1.2"/>
<rect x="415.5" y="757.4" width="11.6" height="57" fill="#8ea4d6" stroke="#3561b3" stroke-width="1"/>
<rect x="434.8" y="786.8" width="11.6" height="27.6" fill="#89c29f" stroke="#2a7f48" stroke-width="1"/>
<rect x="454.1" y="780.9" width="11.6" height="33.5" fill="#b6a89f" stroke="#6b5343" stroke-width="1"/>
<rect x="473.3" y="781.9" width="11.6" height="32.5" fill="#c790b8" stroke="#9c2f7c" stroke-width="1"/>
<rect x="492.6" y="781.9" width="11.6" height="32.5" fill="#f2c583" stroke="#f0a235" stroke-width="1"/>
<line x1="421.3" y1="771.6" x2="421.3" y2="741.8" stroke="#3561b3" stroke-width="1"/>
<line x1="417.3" y1="741.8" x2="425.3" y2="741.8" stroke="#3561b3" stroke-width="1"/>
<line x1="417.3" y1="771.6" x2="425.3" y2="771.6" stroke="#3561b3" stroke-width="1"/>
<line x1="440.6" y1="801.4" x2="440.6" y2="772.7" stroke="#2a7f48" stroke-width="1"/>
<line x1="436.6" y1="772.7" x2="444.6" y2="772.7" stroke="#2a7f48" stroke-width="1"/>
<line x1="436.6" y1="801.4" x2="444.6" y2="801.4" stroke="#2a7f48" stroke-width="1"/>
<line x1="459.9" y1="796.1" x2="459.9" y2="764.6" stroke="#6b5343" stroke-width="1"/>
<line x1="455.9" y1="764.6" x2="463.9" y2="764.6" stroke="#6b5343" stroke-width="1"/>
<line x1="455.9" y1="796.1" x2="463.9" y2="796.1" stroke="#6b5343" stroke-width="1"/>
<line x1="479.1" y1="790.9" x2="479.1" y2="771.6" stroke="#9c2f7c" stroke-width="1"/>
<line x1="475.1" y1="771.6" x2="483.1" y2="771.6" stroke="#9c2f7c" stroke-width="1"/>
<line x1="475.1" y1="790.9" x2="483.1" y2="790.9" stroke="#9c2f7c" stroke-width="1"/>
<line x1="498.4" y1="796.8" x2="498.4" y2="766.4" stroke="#f0a235" stroke-width="1"/>
<line x1="494.4" y1="766.4" x2="502.4" y2="766.4" stroke="#f0a235" stroke-width="1"/>
<line x1="494.4" y1="796.8" x2="502.4" y2="796.8" stroke="#f0a235" stroke-width="1"/>
<circle cx="421.3" cy="735.5" r="1.95" fill="#3561b3"/>
<circle cx="416.8" cy="745" r="1.95" fill="#3561b3"/>
<circle cx="425.8" cy="745" r="1.95" fill="#3561b3"/>
<circle cx="421.3" cy="750" r="1.95" fill="#3561b3"/>
<circle cx="418.3" cy="756" r="1.95" fill="#3561b3"/>
<circle cx="424.3" cy="757" r="1.95" fill="#3561b3"/>
<circle cx="421.3" cy="763" r="1.95" fill="#3561b3"/>
<circle cx="417.3" cy="770" r="1.95" fill="#3561b3"/>
<circle cx="425.3" cy="770" r="1.95" fill="#3561b3"/>
<circle cx="421.3" cy="777" r="1.95" fill="#3561b3"/>
<circle cx="421.3" cy="783" r="1.95" fill="#3561b3"/>
<circle cx="440.6" cy="775.5" r="1.95" fill="#2a7f48"/>
<circle cx="436.6" cy="782" r="1.95" fill="#2a7f48"/>
<circle cx="444.6" cy="782" r="1.95" fill="#2a7f48"/>
<circle cx="440.6" cy="788" r="1.95" fill="#2a7f48"/>
<circle cx="436.6" cy="795" r="1.95" fill="#2a7f48"/>
<circle cx="444.6" cy="795" r="1.95" fill="#2a7f48"/>
<circle cx="440.6" cy="803" r="1.95" fill="#2a7f48"/>
<circle cx="437.6" cy="806" r="1.95" fill="#2a7f48"/>
<circle cx="459.9" cy="754.5" r="1.95" fill="#6b5343"/>
<circle cx="456.9" cy="763" r="1.95" fill="#6b5343"/>
<circle cx="462.9" cy="763" r="1.95" fill="#6b5343"/>
<circle cx="459.9" cy="776" r="1.95" fill="#6b5343"/>
<circle cx="455.9" cy="782" r="1.95" fill="#6b5343"/>
<circle cx="463.9" cy="783" r="1.95" fill="#6b5343"/>
<circle cx="459.9" cy="790" r="1.95" fill="#6b5343"/>
<circle cx="456.9" cy="797" r="1.95" fill="#6b5343"/>
<circle cx="459.9" cy="805" r="1.95" fill="#6b5343"/>
<circle cx="479.1" cy="760" r="1.95" fill="#9c2f7c"/>
<circle cx="475.1" cy="770" r="1.95" fill="#9c2f7c"/>
<circle cx="483.1" cy="770" r="1.95" fill="#9c2f7c"/>
<circle cx="476.1" cy="778" r="1.95" fill="#9c2f7c"/>
<circle cx="482.1" cy="780" r="1.95" fill="#9c2f7c"/>
<circle cx="479.1" cy="784" r="1.95" fill="#9c2f7c"/>
<circle cx="475.1" cy="787" r="1.95" fill="#9c2f7c"/>
<circle cx="483.1" cy="787" r="1.95" fill="#9c2f7c"/>
<circle cx="479.1" cy="793" r="1.95" fill="#9c2f7c"/>
<circle cx="498.4" cy="759" r="1.95" fill="#f0a235"/>
<circle cx="502.4" cy="763" r="1.95" fill="#f0a235"/>
<circle cx="494.4" cy="770" r="1.95" fill="#f0a235"/>
<circle cx="501.4" cy="770" r="1.95" fill="#f0a235"/>
<circle cx="498.4" cy="776" r="1.95" fill="#f0a235"/>
<circle cx="495.4" cy="786" r="1.95" fill="#f0a235"/>
<circle cx="502.4" cy="787" r="1.95" fill="#f0a235"/>
<circle cx="498.4" cy="792" r="1.95" fill="#f0a235"/>
<circle cx="498.4" cy="800" r="1.95" fill="#f0a235"/>
<polyline points="421.4,729.6 421.4,724 440.6,724 440.6,801" fill="none" stroke="#161616" stroke-width="1.2"/>
<text x="430.9" y="722.85" font-size="8.3" text-anchor="middle" textLength="33.7" lengthAdjust="spacingAndGlyphs">P=0.0002</text>
<polyline points="421.4,712.9 421.4,706.8 459.9,706.8 459.9,745.3" fill="none" stroke="#161616" stroke-width="1.2"/>
<text x="440.8" y="705.75" font-size="8.3" text-anchor="middle" textLength="34.1" lengthAdjust="spacingAndGlyphs">P=0.0022</text>
<polyline points="421.4,700.7 421.4,695.8 479.7,695.8 479.7,756.7" fill="none" stroke="#161616" stroke-width="1.2"/>
<text x="450.4" y="694.35" font-size="8.3" text-anchor="middle" textLength="34.1" lengthAdjust="spacingAndGlyphs">P=0.0020</text>
<polyline points="421.4,691 421.4,684.9 498.1,684.9 498.1,755.8" fill="none" stroke="#161616" stroke-width="1.2"/>
<text x="460" y="682.95" font-size="8.3" text-anchor="middle" textLength="34.2" lengthAdjust="spacingAndGlyphs">P=0.0015</text>
<text transform="translate(388.4 763.45) rotate(-90)" font-size="10.8" text-anchor="middle" textLength="136.5" lengthAdjust="spacingAndGlyphs">Cleaved Caspase-3<tspan font-size="6.3" dy="-4">+</tspan><tspan dy="4">AMs (%)</tspan></text>
<circle cx="510.7" cy="705.3" r="2.1" fill="#3561b3"/>
<text x="516.6" y="708.3" font-size="10.9">Vehicle</text>
<circle cx="510.7" cy="722.15" r="2.1" fill="#2a7f48"/>
<text x="516.6" y="725.15" font-size="10.9">2-DG</text>
<circle cx="510.7" cy="739" r="2.1" fill="#6b5343"/>
<text x="516.6" y="742" font-size="10.9">Oligomycin</text>
<circle cx="510.7" cy="755.85" r="2.1" fill="#9c2f7c"/>
<text x="516.6" y="758.85" font-size="10.9">mitoTEMPO</text>
<circle cx="510.7" cy="772.7" r="2.1" fill="#f0a235"/>
<text x="516.6" y="775.7" font-size="10.9">Z-VAD-FMK</text>
</g></svg>
</body></html>
